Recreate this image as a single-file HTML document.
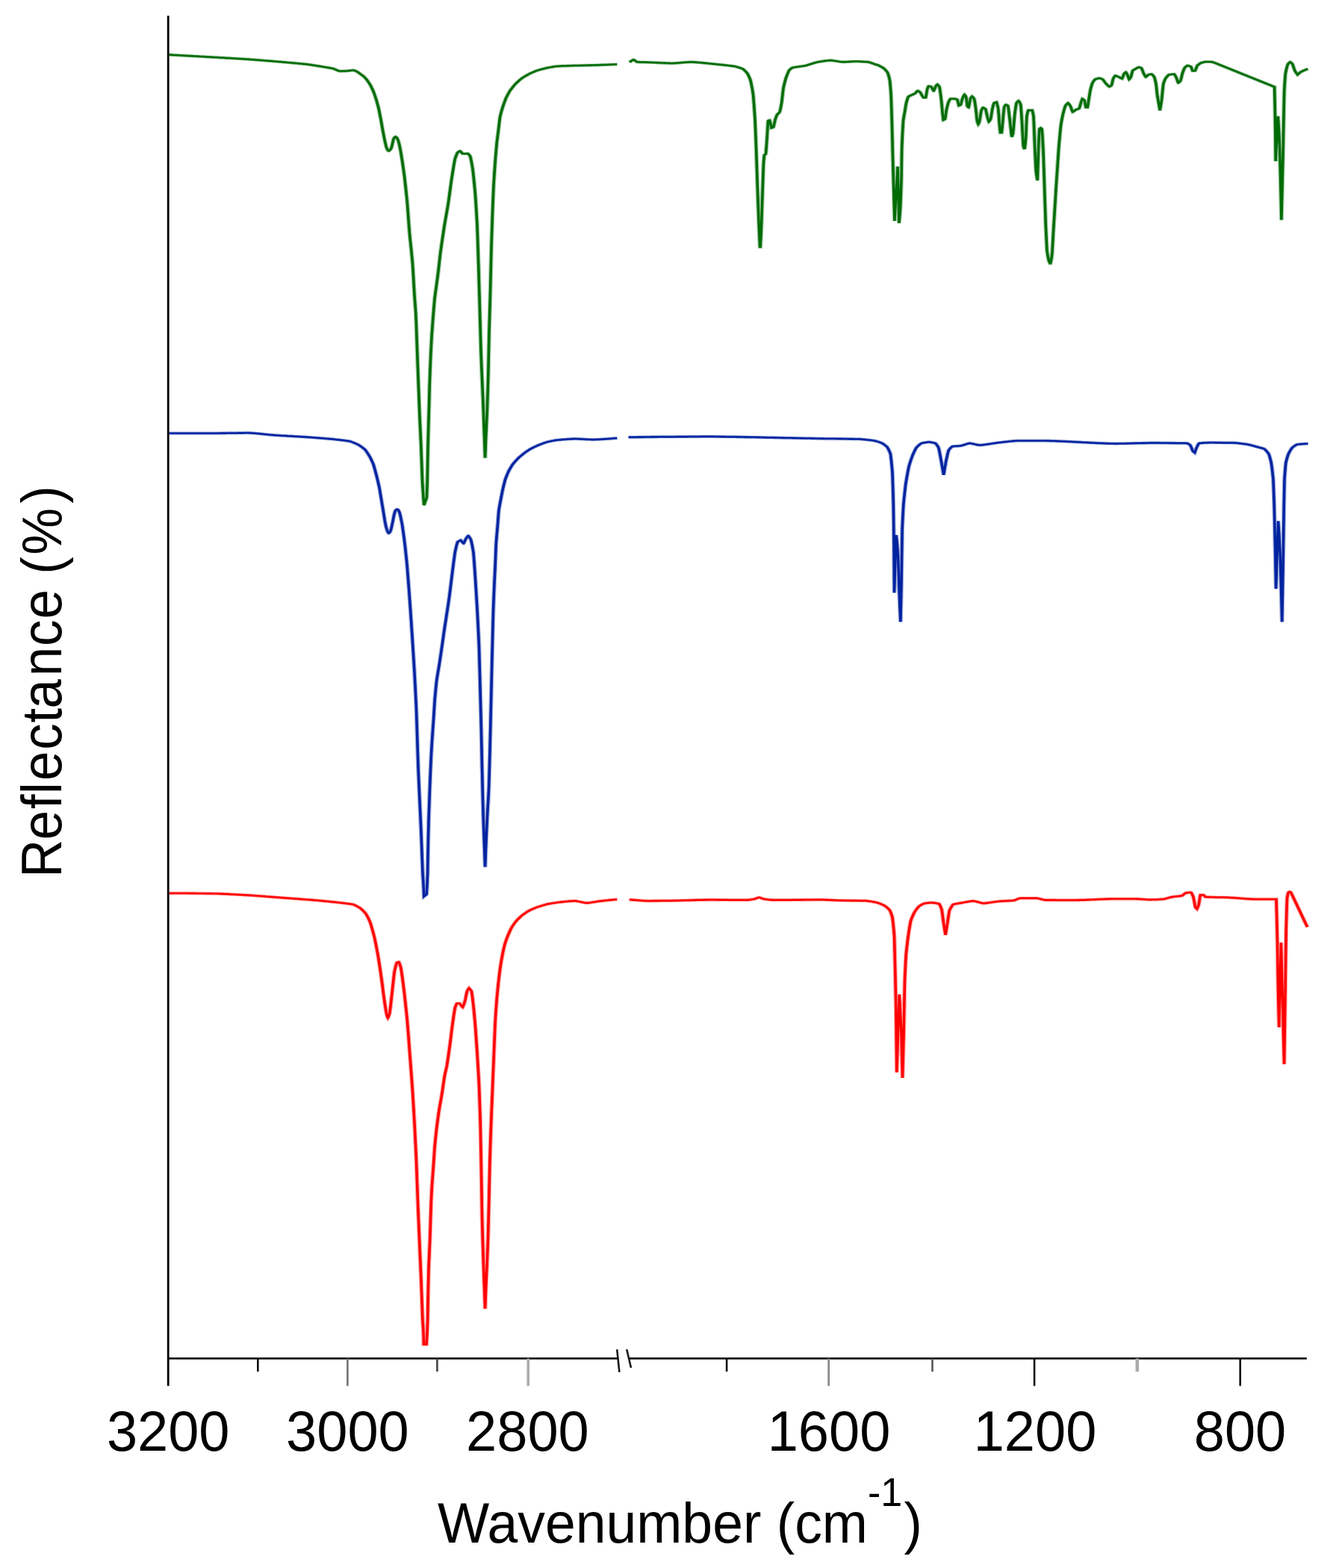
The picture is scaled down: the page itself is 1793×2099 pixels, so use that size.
<!DOCTYPE html>
<html lang="en">
<head>
<meta charset="utf-8">
<title>Reflectance spectra</title>
<style>
html,body{margin:0;padding:0;background:#fff;}
body{width:1793px;height:2099px;overflow:hidden;font-family:"Liberation Sans",Arial,Helvetica,sans-serif;}
svg{display:block}
#chart{width:1793px;height:2099px;}
</style>
</head>
<body>
<div id="chart">
<svg xmlns="http://www.w3.org/2000/svg" width="1793" height="2099" viewBox="0 0 1793 2099" style="display:block">
<rect width="1793" height="2099" fill="#fff"/>
<defs>
<path id="c1" d="M167.63 1195.7 168.22 1195.7 168.81 1195.7 169.40 1195.7 170.00 1195.7 170.59 1195.7 171.18 1195.7 171.77 1195.7 172.36 1195.7 172.96 1195.7 173.55 1195.7 174.14 1195.7 174.73 1195.7 175.32 1195.8 175.91 1195.8 176.51 1195.8 177.10 1195.8 177.69 1195.8 178.28 1195.8 178.87 1195.8 179.46 1195.8 180.06 1195.8 180.65 1195.8 181.24 1195.8 181.83 1195.8 182.42 1195.8 183.01 1195.8 183.61 1195.8 184.20 1195.8 184.79 1195.8 185.38 1195.8 185.97 1195.8 186.56 1195.9 187.16 1195.9 187.75 1195.9 188.34 1195.9 188.93 1195.9 189.52 1195.9 190.12 1195.9 190.71 1195.9 191.30 1195.9 191.89 1195.9 192.48 1195.9 193.07 1195.9 193.67 1195.9 194.26 1195.9 194.85 1195.9 195.44 1196.0 196.03 1196.0 196.62 1196.0 197.22 1196.0 197.81 1196.0 198.40 1196.0 198.99 1196.0 199.58 1196.0 200.17 1196.0 200.77 1196.0 201.36 1196.0 201.95 1196.0 202.54 1196.0 203.13 1196.1 203.72 1196.1 204.32 1196.1 204.91 1196.1 205.50 1196.1 206.09 1196.1 206.68 1196.1 207.28 1196.1 207.87 1196.1 208.46 1196.1 209.05 1196.1 209.64 1196.1 210.23 1196.2 210.83 1196.2 211.42 1196.2 212.01 1196.2 212.60 1196.2 213.19 1196.2 213.19 1196.2 213.78 1196.2 214.38 1196.3 214.97 1196.3 215.56 1196.3 216.15 1196.3 216.74 1196.4 217.33 1196.4 217.93 1196.4 218.52 1196.5 219.11 1196.5 219.70 1196.5 220.29 1196.6 220.88 1196.6 221.48 1196.6 222.07 1196.7 222.66 1196.7 223.25 1196.7 223.84 1196.8 224.44 1196.8 225.03 1196.8 225.62 1196.9 226.21 1196.9 226.80 1197.0 227.39 1197.0 227.99 1197.0 228.58 1197.1 229.17 1197.1 229.76 1197.2 230.35 1197.2 230.94 1197.2 231.54 1197.3 232.13 1197.3 232.72 1197.4 233.31 1197.4 233.90 1197.5 234.49 1197.5 235.09 1197.5 235.68 1197.6 236.27 1197.6 236.86 1197.7 237.45 1197.7 238.04 1197.8 238.64 1197.8 239.23 1197.8 239.82 1197.9 240.41 1197.9 241.00 1198.0 241.60 1198.0 242.19 1198.1 242.78 1198.1 243.37 1198.2 243.96 1198.2 244.55 1198.2 245.15 1198.3 245.74 1198.3 246.33 1198.4 246.67 1198.4 246.92 1198.4 247.51 1198.5 248.10 1198.5 248.70 1198.6 249.29 1198.6 249.88 1198.7 250.47 1198.8 251.06 1198.8 251.65 1198.9 252.25 1198.9 252.84 1199.0 253.43 1199.0 254.02 1199.1 254.61 1199.2 255.20 1199.2 255.80 1199.3 256.39 1199.3 256.98 1199.4 257.57 1199.5 258.16 1199.5 258.76 1199.6 259.35 1199.6 259.94 1199.7 260.53 1199.8 261.12 1199.8 261.71 1199.9 262.31 1199.9 262.90 1200.0 263.49 1200.1 264.08 1200.1 264.67 1200.2 265.26 1200.2 265.86 1200.3 266.45 1200.4 267.04 1200.4 267.63 1200.5 268.22 1200.6 268.81 1200.6 269.41 1200.7 270.00 1200.7 270.59 1200.8 271.18 1200.9 271.77 1200.9 272.36 1201.0 272.96 1201.1 273.55 1201.1 274.14 1201.2 274.73 1201.2 275.32 1201.3 275.92 1201.4 276.51 1201.4 277.10 1201.5 277.69 1201.5 278.28 1201.6 278.87 1201.7 279.47 1201.7 280.06 1201.8 280.15 1201.8 280.65 1201.9 281.24 1201.9 281.83 1202.0 282.42 1202.0 283.02 1202.1 283.61 1202.1 284.20 1202.2 284.79 1202.3 285.38 1202.3 285.97 1202.4 286.57 1202.4 287.16 1202.5 287.75 1202.6 288.34 1202.6 288.93 1202.7 289.53 1202.7 290.12 1202.8 290.71 1202.9 291.30 1202.9 291.89 1203.0 292.48 1203.0 293.08 1203.1 293.67 1203.1 294.26 1203.2 294.85 1203.3 295.44 1203.3 296.03 1203.4 296.63 1203.4 297.22 1203.5 297.81 1203.6 298.40 1203.6 298.99 1203.7 299.58 1203.7 300.18 1203.8 300.77 1203.9 301.36 1203.9 301.95 1204.0 302.54 1204.0 303.13 1204.1 303.73 1204.2 304.32 1204.2 304.91 1204.3 305.50 1204.3 306.09 1204.4 306.69 1204.5 307.28 1204.5 307.87 1204.6 308.46 1204.6 309.05 1204.7 309.64 1204.8 310.24 1204.8 310.83 1204.9 311.42 1205.0 312.01 1205.0 312.60 1205.1 313.19 1205.2 313.63 1205.2 313.79 1205.2 314.38 1205.3 314.97 1205.4 315.56 1205.4 316.15 1205.5 316.74 1205.6 317.34 1205.7 317.93 1205.7 318.52 1205.8 319.11 1205.9 319.70 1206.0 320.29 1206.1 320.89 1206.1 321.48 1206.2 322.07 1206.3 322.66 1206.4 323.25 1206.4 323.85 1206.5 324.44 1206.6 325.03 1206.7 325.62 1206.8 326.21 1206.8 326.80 1206.9 327.40 1207.0 327.99 1207.1 328.58 1207.2 329.17 1207.2 329.76 1207.3 330.35 1207.4 330.95 1207.5 331.54 1207.6 332.13 1207.6 332.72 1207.7 333.31 1207.8 333.90 1207.9 334.50 1208.0 335.09 1208.1 335.68 1208.2 336.27 1208.2 336.86 1208.3 337.45 1208.4 338.05 1208.5 338.64 1208.6 338.74 1208.6 339.23 1208.7 339.82 1208.8 340.41 1208.9 341.01 1209.0 341.60 1209.1 342.19 1209.2 342.78 1209.3 343.37 1209.4 343.96 1209.5 344.56 1209.6 345.15 1209.7 345.74 1209.8 346.33 1209.9 346.92 1210.0 347.51 1210.2 348.11 1210.3 348.70 1210.4 349.29 1210.5 349.88 1210.7 350.37 1210.8 350.47 1210.9 351.06 1211.2 351.66 1211.5 352.25 1211.9 352.84 1212.3 353.43 1212.7 354.02 1213.1 354.61 1213.5 355.21 1214.0 355.80 1214.4 356.39 1214.9 356.98 1215.4 357.04 1215.4 357.57 1216.0 358.17 1216.7 358.76 1217.4 359.35 1218.2 359.94 1218.9 360.53 1219.7 361.12 1220.6 361.72 1221.4 362.31 1222.3 362.90 1223.2 362.96 1223.3 363.49 1224.5 364.08 1226.0 364.67 1227.5 365.27 1229.0 365.86 1230.7 366.45 1232.4 367.04 1234.2 367.19 1234.6 367.63 1236.5 368.22 1239.1 368.82 1241.9 369.41 1244.7 370.00 1247.6 370.59 1250.7 371.18 1253.7 371.41 1254.9 371.77 1257.2 372.37 1261.0 372.96 1265.0 373.55 1269.1 374.14 1273.2 374.73 1277.4 374.74 1277.5 375.33 1282.4 375.92 1287.5 376.51 1292.7 377.10 1298.0 377.69 1303.4 378.07 1306.9 378.28 1309.0 378.88 1315.0 379.47 1321.1 380.06 1327.3 380.65 1333.3 381.24 1339.2 381.41 1340.8 381.83 1344.5 382.43 1349.7 383.02 1354.6 383.61 1358.8 383.63 1358.9 384.20 1361.1 384.74 1362.5 384.79 1362.4 385.38 1360.8 385.98 1358.6 386.44 1356.6 386.57 1355.5 387.16 1349.6 387.75 1342.7 388.34 1335.4 388.93 1328.2 389.04 1327.0 389.53 1321.1 390.12 1313.7 390.71 1306.5 391.30 1300.3 391.33 1300.0 391.89 1296.7 392.49 1293.5 393.08 1290.8 393.63 1288.8 393.67 1288.8 394.26 1288.3 394.85 1288.0 395.44 1287.7 395.56 1287.7 396.04 1288.9 396.63 1291.1 397.22 1293.7 397.63 1295.6 397.81 1297.0 398.40 1302.1 398.99 1307.7 399.59 1313.7 400.18 1319.9 400.67 1325.0 400.77 1326.2 401.36 1333.3 401.95 1340.5 402.54 1347.9 403.14 1355.5 403.73 1363.3 404.07 1368.0 404.32 1372.1 404.91 1382.3 405.50 1392.9 406.09 1403.7 406.67 1414.0 406.69 1414.4 407.28 1425.0 407.87 1435.6 408.46 1446.4 409.05 1457.5 409.19 1460.0 409.65 1470.0 410.24 1483.2 410.83 1496.8 411.11 1503.4 411.42 1511.5 412.01 1527.3 412.60 1543.9 412.81 1550.0 413.20 1563.4 413.79 1585.3 414.38 1607.3 414.59 1615.0 414.97 1627.3 415.56 1646.1 416.15 1664.6 416.75 1683.1 417.34 1701.8 417.85 1718.5 417.93 1721.2 418.52 1742.5 418.59 1745.1 419.11 1764.1 419.26 1768.9 419.70 1777.5 420.07 1785.5 420.30 1799.8 422.96 1799.8 423.55 1787.7 424.14 1769.2 424.15 1768.8 424.44 1745.1 424.73 1724.6 424.74 1723.5 425.26 1695.8 425.31 1693.9 425.90 1676.0 426.37 1661.7 426.49 1657.0 426.89 1640.0 427.07 1632.1 427.63 1609.0 427.66 1608.1 428.25 1592.9 428.59 1584.8 428.84 1580.2 429.42 1569.7 429.93 1560.7 430.01 1559.0 430.60 1546.7 431.11 1536.5 431.19 1535.4 431.77 1527.0 432.36 1519.2 432.89 1512.4 432.95 1511.8 433.54 1505.5 434.12 1499.4 434.71 1493.6 435.26 1488.3 435.30 1488.0 435.88 1483.2 436.47 1478.7 437.06 1474.3 437.65 1469.8 438.23 1465.2 438.37 1464.1 438.82 1460.1 439.41 1454.6 440.00 1449.1 440.58 1443.8 441.04 1440.0 441.17 1439.1 441.76 1435.5 442.35 1432.1 442.93 1428.6 443.19 1427.0 443.52 1424.2 444.11 1419.0 444.70 1413.6 445.28 1408.0 445.87 1402.4 446.30 1398.3 446.46 1396.6 447.04 1390.3 447.63 1383.9 448.22 1377.5 448.81 1371.3 448.81 1371.2 449.39 1365.8 449.98 1360.2 450.57 1355.0 451.16 1350.4 451.33 1349.2 451.74 1347.6 452.33 1345.5 452.92 1343.9 453.26 1343.2 453.51 1343.2 454.09 1343.2 454.68 1343.2 455.27 1343.2 455.78 1343.2 455.85 1343.3 456.44 1344.0 457.03 1345.1 457.62 1346.3 458.20 1347.4 458.79 1348.2 458.89 1348.3 459.38 1347.1 459.97 1345.1 460.55 1342.7 461.14 1340.1 461.41 1339.0 461.73 1337.0 462.32 1332.9 462.90 1329.0 463.26 1327.0 463.49 1326.4 464.08 1324.9 464.67 1323.7 465.19 1322.9 465.25 1323.0 465.84 1323.6 466.43 1324.5 467.01 1325.5 467.60 1326.8 467.70 1327.0 468.19 1330.9 468.78 1337.0 469.36 1343.6 469.56 1345.8 469.95 1351.2 470.54 1359.7 471.13 1368.5 471.41 1372.9 471.71 1378.5 472.30 1389.7 472.89 1401.3 473.33 1410.2 473.48 1413.3 474.06 1426.0 474.65 1439.2 475.19 1452.5 475.24 1454.3 475.82 1476.7 476.41 1501.9 476.44 1503.4 477.00 1539.1 477.26 1557.0 477.59 1583.3 478.15 1627.8 478.17 1629.2 478.76 1658.1 479.33 1683.8 479.35 1684.4 479.94 1706.6 480.44 1725.4 480.52 1728.4 481.11 1750.4 481.26 1750.4 481.85 1728.1 481.93 1725.4 482.44 1709.9 483.04 1692.8 483.33 1683.8 483.63 1673.7 484.00 1660.0 484.22 1649.4 484.59 1630.0 484.81 1617.9 485.04 1605.0 485.40 1582.5 485.78 1560.0 485.99 1549.7 486.59 1523.4 486.67 1520.0 487.18 1501.8 487.77 1481.9 488.36 1462.4 488.95 1442.8 489.04 1440.0 489.55 1422.8 490.14 1402.8 490.52 1390.0 490.73 1382.7 491.11 1370.0 491.32 1365.3 491.91 1353.1 492.51 1342.0 492.74 1337.7 493.10 1332.5 493.69 1324.3 494.28 1316.5 494.67 1311.6 494.87 1309.3 495.47 1302.8 496.06 1296.7 496.30 1294.3 496.65 1291.4 497.24 1286.6 497.83 1282.0 498.43 1277.6 498.52 1276.9 499.02 1273.8 499.61 1270.2 500.20 1266.8 500.74 1263.9 500.79 1263.7 501.38 1261.3 501.98 1258.9 502.57 1256.7 503.16 1254.6 503.70 1252.6 503.75 1252.4 504.34 1250.6 504.94 1248.8 505.53 1247.0 506.12 1245.3 506.71 1243.6 507.26 1242.1 507.30 1242.0 507.90 1240.7 508.49 1239.5 509.08 1238.3 509.67 1237.2 510.26 1236.0 510.86 1234.9 511.45 1233.9 511.70 1233.4 512.04 1232.9 512.63 1232.1 513.22 1231.2 513.81 1230.4 514.41 1229.6 515.00 1228.8 515.59 1228.1 516.18 1227.3 516.77 1226.6 517.37 1225.8 517.56 1225.6 517.96 1225.2 518.55 1224.6 519.14 1224.1 519.73 1223.5 520.33 1222.9 520.92 1222.4 521.51 1221.9 522.10 1221.3 522.69 1220.8 523.29 1220.3 523.88 1219.8 524.47 1219.3 525.06 1218.9 525.26 1218.7 525.65 1218.5 526.25 1218.1 526.84 1217.7 527.43 1217.4 528.02 1217.0 528.61 1216.7 529.20 1216.3 529.80 1216.0 530.39 1215.7 530.98 1215.4 531.57 1215.0 532.16 1214.7 532.76 1214.4 532.96 1214.3 533.35 1214.1 533.94 1213.9 534.53 1213.6 535.12 1213.4 535.72 1213.1 536.31 1212.9 536.90 1212.6 537.49 1212.4 538.08 1212.1 538.68 1211.9 539.27 1211.6 539.86 1211.4 540.45 1211.2 541.04 1211.0 541.64 1210.7 542.23 1210.5 542.59 1210.4 542.82 1210.3 543.41 1210.2 544.00 1210.0 544.59 1209.9 545.19 1209.8 545.78 1209.6 546.37 1209.5 546.96 1209.3 547.55 1209.2 548.15 1209.1 548.74 1208.9 549.33 1208.8 549.92 1208.7 550.51 1208.6 551.11 1208.4 551.70 1208.3 552.29 1208.2 552.30 1208.2 552.88 1208.1 553.47 1208.0 554.07 1207.9 554.66 1207.8 555.25 1207.7 555.84 1207.6 556.43 1207.5 557.03 1207.4 557.62 1207.4 558.21 1207.3 558.80 1207.2 559.39 1207.1 559.98 1207.0 560.58 1206.9 561.17 1206.8 561.76 1206.8 562.35 1206.7 562.94 1206.6 562.96 1206.6 563.54 1206.5 564.13 1206.5 564.72 1206.4 565.31 1206.4 565.90 1206.3 566.50 1206.3 567.09 1206.2 567.68 1206.2 568.27 1206.1 568.86 1206.1 569.46 1206.0 570.05 1206.0 570.37 1206.0 570.64 1206.0 571.23 1206.1 571.82 1206.2 572.42 1206.4 573.01 1206.5 573.60 1206.7 574.19 1206.8 574.78 1207.0 575.37 1207.2 575.97 1207.3 576.56 1207.5 577.15 1207.7 577.74 1207.9 578.33 1208.0 578.93 1208.2 579.52 1208.4 580.11 1208.5 580.70 1208.6 581.29 1208.7 581.89 1208.8 581.93 1208.8 582.48 1208.7 583.07 1208.7 583.66 1208.6 584.25 1208.5 584.85 1208.4 585.44 1208.3 586.03 1208.2 586.62 1208.1 587.21 1207.9 587.81 1207.8 588.40 1207.7 588.99 1207.6 589.58 1207.4 590.17 1207.3 590.76 1207.2 591.36 1207.0 591.95 1206.9 592.54 1206.8 593.13 1206.6 593.72 1206.5 594.32 1206.4 594.44 1206.4 594.91 1206.3 595.50 1206.2 596.09 1206.1 596.68 1206.1 597.28 1206.0 597.87 1205.9 598.46 1205.8 599.05 1205.7 599.64 1205.6 600.24 1205.5 600.83 1205.4 601.42 1205.4 602.01 1205.3 602.60 1205.2 603.20 1205.1 603.79 1205.0 604.38 1204.9 604.97 1204.9 605.56 1204.8 606.15 1204.7 606.75 1204.6 607.34 1204.5 607.93 1204.4 608.52 1204.4 609.11 1204.3 609.71 1204.2 610.30 1204.1 610.89 1204.1 611.48 1204.0 612.07 1203.9"/>
<path id="c2" d="M624.22 1204.2 624.81 1204.3 625.41 1204.3 626.00 1204.4 626.59 1204.5 627.18 1204.6 627.77 1204.6 628.37 1204.7 628.96 1204.8 629.55 1204.8 630.14 1204.9 630.74 1205.0 631.33 1205.1 631.92 1205.1 632.51 1205.2 633.10 1205.3 633.70 1205.3 634.29 1205.4 634.88 1205.4 635.47 1205.5 636.06 1205.5 636.66 1205.6 637.25 1205.7 637.84 1205.7 638.43 1205.8 639.02 1205.8 639.62 1205.8 640.21 1205.9 640.80 1205.9 641.39 1206.0 641.99 1206.0 642.22 1206.0 642.58 1206.0 643.17 1206.0 643.76 1206.0 644.35 1206.0 644.95 1206.0 645.54 1206.0 646.13 1206.0 646.72 1206.0 647.31 1206.0 647.91 1205.9 648.50 1205.9 649.09 1205.9 649.68 1205.9 650.27 1205.9 650.87 1205.9 651.46 1205.9 652.05 1205.9 652.64 1205.9 653.23 1205.9 653.83 1205.9 654.42 1205.9 655.01 1205.8 655.60 1205.8 656.20 1205.8 656.79 1205.8 657.38 1205.8 657.97 1205.8 658.56 1205.8 659.16 1205.8 659.75 1205.8 660.34 1205.8 660.93 1205.8 661.52 1205.7 662.12 1205.7 662.71 1205.7 663.30 1205.7 663.89 1205.7 664.48 1205.7 665.08 1205.7 665.67 1205.7 666.26 1205.7 666.85 1205.6 667.45 1205.6 668.04 1205.6 668.63 1205.6 669.22 1205.6 669.63 1205.6 669.81 1205.6 670.41 1205.6 671.00 1205.6 671.59 1205.5 672.18 1205.5 672.77 1205.5 673.37 1205.5 673.96 1205.5 674.55 1205.5 675.14 1205.4 675.73 1205.4 676.33 1205.4 676.92 1205.4 677.51 1205.4 678.10 1205.3 678.70 1205.3 679.29 1205.3 679.88 1205.3 680.47 1205.2 681.06 1205.2 681.66 1205.2 682.25 1205.2 682.84 1205.2 683.43 1205.1 684.02 1205.1 684.62 1205.1 685.21 1205.1 685.80 1205.0 686.39 1205.0 686.98 1205.0 687.58 1205.0 688.17 1205.0 688.76 1204.9 689.35 1204.9 689.94 1204.9 690.54 1204.9 691.13 1204.8 691.72 1204.8 692.31 1204.8 692.91 1204.8 693.50 1204.8 694.09 1204.7 694.68 1204.7 695.27 1204.7 695.87 1204.7 696.46 1204.7 697.05 1204.7 697.64 1204.6 698.23 1204.6 698.83 1204.6 699.42 1204.6 700.01 1204.6 700.60 1204.6 701.19 1204.5 701.79 1204.5 702.38 1204.5 702.97 1204.5 703.56 1204.5 703.70 1204.5 704.16 1204.5 704.75 1204.5 705.34 1204.5 705.93 1204.5 706.52 1204.5 707.12 1204.5 707.71 1204.5 708.30 1204.5 708.89 1204.5 709.48 1204.5 710.08 1204.5 710.67 1204.5 711.26 1204.5 711.85 1204.6 712.44 1204.6 713.04 1204.6 713.63 1204.6 714.22 1204.6 714.81 1204.6 715.41 1204.6 716.00 1204.6 716.59 1204.6 717.18 1204.6 717.77 1204.6 718.37 1204.6 718.96 1204.6 719.55 1204.6 720.14 1204.6 720.73 1204.6 721.33 1204.6 721.92 1204.6 722.51 1204.7 723.10 1204.7 723.69 1204.7 724.29 1204.7 724.88 1204.7 725.47 1204.7 726.06 1204.7 726.65 1204.7 727.25 1204.7 727.84 1204.7 728.43 1204.7 729.02 1204.7 729.62 1204.7 730.21 1204.7 730.80 1204.7 731.39 1204.7 731.98 1204.7 732.58 1204.7 733.17 1204.8 733.76 1204.8 734.35 1204.8 734.94 1204.8 735.54 1204.8 736.13 1204.8 736.72 1204.8 737.31 1204.8 737.90 1204.8 738.50 1204.8 739.09 1204.8 739.68 1204.8 740.27 1204.8 740.74 1204.8 740.87 1204.8 741.46 1204.7 742.05 1204.7 742.64 1204.6 743.23 1204.5 743.83 1204.4 744.42 1204.3 745.01 1204.2 745.60 1204.0 746.19 1203.9 746.79 1203.8 747.38 1203.7 747.97 1203.5 748.15 1203.5 748.56 1203.3 749.15 1203.1 749.75 1202.8 750.34 1202.5 750.93 1202.2 751.52 1201.9 752.12 1201.6 752.71 1201.4 752.89 1201.4 753.30 1201.5 753.89 1201.7 754.48 1202.0 755.08 1202.2 755.67 1202.6 756.26 1202.9 756.85 1203.1 757.44 1203.4 757.78 1203.5 758.04 1203.5 758.63 1203.7 759.22 1203.8 759.81 1203.9 760.40 1204.0 761.00 1204.1 761.59 1204.2 762.18 1204.3 762.77 1204.4 763.36 1204.4 763.96 1204.5 764.55 1204.6 765.14 1204.7 765.73 1204.7 766.33 1204.8 766.67 1204.8 766.92 1204.8 767.51 1204.8 768.10 1204.8 768.69 1204.8 769.29 1204.8 769.88 1204.8 770.47 1204.8 771.06 1204.8 771.65 1204.8 772.25 1204.8 772.84 1204.8 773.43 1204.8 774.02 1204.8 774.61 1204.8 775.21 1204.7 775.80 1204.7 776.39 1204.7 776.98 1204.7 777.58 1204.7 778.17 1204.7 778.76 1204.7 779.35 1204.7 779.94 1204.7 780.54 1204.7 781.13 1204.7 781.72 1204.7 782.31 1204.7 782.90 1204.7 783.50 1204.7 784.09 1204.7 784.68 1204.7 785.27 1204.7 785.86 1204.7 786.46 1204.6 787.05 1204.6 787.64 1204.6 788.23 1204.6 788.83 1204.6 789.42 1204.6 790.01 1204.6 790.60 1204.6 791.19 1204.6 791.79 1204.6 792.38 1204.6 792.97 1204.6 793.56 1204.6 794.15 1204.6 794.75 1204.6 795.34 1204.6 795.93 1204.5 796.52 1204.5 797.11 1204.5 797.71 1204.5 798.30 1204.5 798.89 1204.5 799.48 1204.5 800.07 1204.5 800.67 1204.5 801.26 1204.5 801.85 1204.5 802.44 1204.5 803.04 1204.5 803.63 1204.5 804.22 1204.5 804.81 1204.5 805.40 1204.5 806.00 1204.5 806.59 1204.4 807.18 1204.4 807.77 1204.4 808.36 1204.4 808.96 1204.4 809.55 1204.4 810.14 1204.4 810.73 1204.4 811.32 1204.4 811.92 1204.4 812.51 1204.4 813.10 1204.4 813.69 1204.4 814.29 1204.4 814.81 1204.4 814.88 1204.4 815.47 1204.4 816.06 1204.4 816.65 1204.5 817.25 1204.5 817.84 1204.5 818.43 1204.5 819.02 1204.6 819.61 1204.6 820.21 1204.6 820.80 1204.7 821.39 1204.7 821.98 1204.7 822.57 1204.8 823.17 1204.8 823.76 1204.8 824.35 1204.9 824.94 1204.9 825.54 1205.0 826.13 1205.0 826.72 1205.0 827.31 1205.1 827.90 1205.1 828.50 1205.1 829.09 1205.2 829.68 1205.2 830.27 1205.2 830.86 1205.3 831.46 1205.3 832.05 1205.3 832.64 1205.4 833.23 1205.4 833.63 1205.4 833.82 1205.4 834.42 1205.4 835.01 1205.4 835.60 1205.4 836.19 1205.4 836.78 1205.5 837.38 1205.5 837.97 1205.5 838.56 1205.5 839.15 1205.5 839.75 1205.5 840.34 1205.5 840.93 1205.5 841.52 1205.5 842.11 1205.5 842.71 1205.5 843.30 1205.6 843.89 1205.6 844.48 1205.6 845.07 1205.6 845.67 1205.6 846.26 1205.6 846.85 1205.6 847.44 1205.6 848.03 1205.6 848.63 1205.6 849.22 1205.6 849.81 1205.6 850.40 1205.6 851.00 1205.7 851.59 1205.7 852.18 1205.7 852.77 1205.7 853.36 1205.7 853.96 1205.7 854.55 1205.7 855.14 1205.7 855.73 1205.7 856.32 1205.7 856.92 1205.8 857.51 1205.8 858.10 1205.8 858.69 1205.8 858.74 1205.8 859.28 1205.9 859.88 1206.0 860.47 1206.1 861.06 1206.2 861.65 1206.3 862.25 1206.4 862.84 1206.5 863.43 1206.6 864.02 1206.8 864.61 1206.9 865.21 1207.0 865.80 1207.2 866.39 1207.3 866.98 1207.5 867.57 1207.6 868.17 1207.8 868.76 1207.9 869.35 1208.1 869.94 1208.3 870.07 1208.3 870.53 1208.5 871.13 1208.8 871.72 1209.1 872.31 1209.4 872.90 1209.7 873.49 1210.0 874.09 1210.3 874.68 1210.7 875.27 1211.0 875.86 1211.4 876.46 1211.8 877.05 1212.2 877.56 1212.5 877.64 1212.6 878.23 1213.2 878.82 1213.8 879.42 1214.4 880.01 1215.1 880.60 1215.8 881.19 1216.5 881.78 1217.3 882.38 1218.2 882.59 1218.5 882.97 1219.6 883.56 1221.5 884.15 1223.7 884.74 1226.1 885.11 1227.8 885.34 1230.0 885.93 1236.6 886.52 1244.7 887.04 1253.2 887.11 1256.2 887.71 1287.4 887.85 1295.6 888.30 1322.2 888.67 1346.4 888.89 1368.5 889.48 1435.4 892.00 1331.2 892.53 1342.2 893.06 1355.5 893.59 1370.4 893.93 1380.3 894.12 1388.9 894.65 1414.7 895.19 1443.0 895.78 1415.1 896.37 1384.3 896.44 1380.3 896.96 1342.5 897.41 1312.5 897.56 1307.7 898.15 1290.9 898.67 1278.6 898.74 1277.5 899.33 1269.7 899.93 1262.8 900.52 1256.4 900.81 1253.2 901.11 1250.6 901.70 1245.4 902.30 1240.5 902.89 1235.9 903.33 1232.9 903.48 1232.3 904.07 1230.2 904.67 1228.1 905.26 1226.3 905.85 1224.5 906.44 1222.8 907.04 1221.2 907.11 1221.0 907.63 1220.0 908.22 1218.8 908.81 1217.7 909.41 1216.7 910.00 1215.7 910.59 1214.7 911.19 1213.8 911.48 1213.4 911.78 1213.1 912.37 1212.6 912.96 1212.1 913.56 1211.6 914.15 1211.1 914.74 1210.6 915.33 1210.2 915.93 1209.8 916.52 1209.5 917.11 1209.4 917.70 1209.3 918.30 1209.1 918.89 1209.0 919.48 1208.9 920.07 1208.8 920.67 1208.7 921.26 1208.6 921.85 1208.5 922.44 1208.5 923.04 1208.4 923.63 1208.3 924.07 1208.3 924.22 1208.3 924.81 1208.4 925.41 1208.5 926.00 1208.6 926.59 1208.7 927.19 1208.8 927.78 1208.9 928.37 1209.0 928.96 1209.2 929.56 1209.4 930.15 1209.5 930.74 1209.7 931.33 1209.9 931.56 1210.0 931.93 1210.7 932.52 1212.2 933.11 1214.1 933.70 1216.2 934.07 1217.6 934.30 1219.3 934.89 1224.9 935.48 1231.1 936.00 1236.3 936.07 1236.9 936.67 1241.9 937.26 1246.8 937.85 1251.5 938.44 1246.7 939.04 1241.8 939.63 1236.9 939.70 1236.3 940.22 1231.5 940.81 1225.9 941.41 1220.8 941.63 1219.3 942.00 1218.2 942.59 1216.6 943.18 1215.1 943.78 1213.7 944.37 1212.5 944.96 1211.5 945.41 1210.8 945.55 1210.7 946.15 1210.5 946.74 1210.3 947.33 1210.1 947.92 1210.0 948.52 1209.8 949.11 1209.7 949.70 1209.5 950.29 1209.4 950.89 1209.3 951.48 1209.1 952.07 1209.0 952.66 1208.9 952.89 1208.8 953.25 1208.7 953.85 1208.6 954.44 1208.4 955.03 1208.3 955.62 1208.1 956.22 1208.0 956.81 1207.8 957.40 1207.7 957.99 1207.6 958.59 1207.4 959.18 1207.3 959.77 1207.1 960.36 1207.0 960.96 1206.9 961.55 1206.7 962.14 1206.6 962.73 1206.5 963.33 1206.4 963.92 1206.3 964.51 1206.2 965.10 1206.1 965.48 1206.1 965.70 1206.1 966.29 1206.3 966.88 1206.4 967.47 1206.6 968.07 1206.8 968.66 1207.0 969.25 1207.2 969.84 1207.4 970.43 1207.6 971.03 1207.8 971.62 1208.1 972.21 1208.3 972.80 1208.5 973.40 1208.7 973.99 1208.9 974.58 1209.0 975.17 1209.1 975.56 1209.2 975.77 1209.2 976.36 1209.1 976.95 1209.1 977.54 1209.0 978.14 1208.9 978.73 1208.8 979.32 1208.7 979.91 1208.6 980.51 1208.5 981.10 1208.4 981.69 1208.3 982.28 1208.2 982.88 1208.0 983.47 1207.9 984.06 1207.8 984.65 1207.7 985.25 1207.6 985.84 1207.4 986.43 1207.3 987.02 1207.2 987.61 1207.1 988.21 1207.0 988.80 1206.9 989.39 1206.8 989.98 1206.7 990.58 1206.6 990.59 1206.6 991.17 1206.5 991.76 1206.5 992.35 1206.4 992.95 1206.4 993.54 1206.4 994.13 1206.3 994.72 1206.3 995.32 1206.2 995.91 1206.2 996.50 1206.1 997.09 1206.1 997.69 1206.1 998.28 1206.0 998.87 1206.0 999.46 1205.9 1000.06 1205.9 1000.65 1205.9 1001.24 1205.8 1001.83 1205.8 1002.43 1205.7 1003.02 1205.7 1003.61 1205.6 1004.20 1205.6 1004.79 1205.5 1005.39 1205.4 1005.63 1205.4 1005.98 1205.3 1006.57 1205.0 1007.16 1204.7 1007.76 1204.4 1008.35 1204.1 1008.94 1203.7 1009.53 1203.4 1010.13 1203.1 1010.72 1202.8 1011.31 1202.6 1011.90 1202.4 1011.93 1202.4 1012.50 1202.4 1013.09 1202.4 1013.68 1202.4 1014.27 1202.4 1014.87 1202.4 1015.46 1202.4 1016.05 1202.4 1016.64 1202.4 1017.24 1202.4 1017.83 1202.4 1018.42 1202.4 1019.01 1202.4 1019.61 1202.4 1020.20 1202.4 1020.79 1202.4 1021.38 1202.4 1021.98 1202.4 1022.57 1202.4 1023.16 1202.4 1023.75 1202.4 1024.34 1202.4 1024.94 1202.4 1025.53 1202.4 1026.12 1202.4 1026.71 1202.4 1027.31 1202.4 1027.90 1202.4 1028.22 1202.4 1028.49 1202.4 1029.08 1202.6 1029.68 1202.7 1030.27 1202.9 1030.86 1203.0 1031.45 1203.2 1032.05 1203.4 1032.64 1203.6 1033.23 1203.9 1033.82 1204.1 1034.42 1204.3 1035.01 1204.4 1035.60 1204.6 1036.19 1204.7 1036.79 1204.9 1037.04 1204.9 1037.38 1204.9 1037.97 1204.9 1038.56 1204.9 1039.16 1204.9 1039.75 1204.9 1040.34 1204.9 1040.93 1204.9 1041.52 1204.9 1042.12 1204.9 1042.71 1204.9 1043.30 1204.9 1043.89 1204.9 1044.49 1204.9 1045.08 1204.9 1045.67 1204.9 1046.26 1204.9 1046.86 1204.9 1047.45 1204.9 1048.04 1205.0 1048.63 1205.0 1049.23 1205.0 1049.82 1205.0 1050.41 1205.0 1051.00 1205.0 1051.60 1205.0 1052.19 1205.0 1052.78 1205.0 1053.37 1205.0 1053.97 1205.0 1054.56 1205.0 1055.15 1205.0 1055.74 1205.0 1056.34 1205.0 1056.93 1205.0 1057.52 1205.0 1058.11 1205.0 1058.70 1205.0 1059.30 1205.0 1059.89 1205.0 1060.48 1205.0 1061.07 1205.0 1061.67 1205.0 1062.26 1205.0 1062.85 1205.0 1063.44 1205.0 1064.04 1205.0 1064.63 1205.0 1065.22 1205.0 1065.81 1205.0 1066.41 1205.0 1066.67 1205.0 1067.00 1205.0 1067.59 1205.0 1068.18 1205.0 1068.78 1204.9 1069.37 1204.9 1069.96 1204.9 1070.55 1204.9 1071.15 1204.9 1071.74 1204.8 1072.33 1204.8 1072.92 1204.8 1073.52 1204.8 1074.11 1204.7 1074.70 1204.7 1075.29 1204.7 1075.88 1204.7 1076.48 1204.6 1077.07 1204.6 1077.66 1204.6 1078.25 1204.5 1078.85 1204.5 1079.44 1204.5 1080.03 1204.5 1080.62 1204.4 1081.22 1204.4 1081.81 1204.4 1082.40 1204.3 1082.99 1204.3 1083.59 1204.3 1084.18 1204.2 1084.77 1204.2 1085.36 1204.2 1085.96 1204.1 1086.55 1204.1 1087.14 1204.1 1087.73 1204.0 1088.33 1204.0 1088.92 1204.0 1089.51 1203.9 1090.10 1203.9 1090.70 1203.9 1091.29 1203.8 1091.88 1203.8 1092.47 1203.8 1093.07 1203.7 1093.66 1203.7 1094.25 1203.7 1094.84 1203.6 1095.43 1203.6 1096.03 1203.6 1096.62 1203.5 1097.21 1203.5 1097.80 1203.5 1098.40 1203.5 1098.99 1203.4 1099.58 1203.4 1100.17 1203.4 1100.77 1203.4 1101.36 1203.3 1101.95 1203.3 1102.54 1203.3 1103.14 1203.3 1103.73 1203.3 1104.32 1203.2 1104.91 1203.2 1105.51 1203.2 1105.93 1203.2 1106.10 1203.2 1106.69 1203.2 1107.28 1203.2 1107.88 1203.2 1108.47 1203.2 1109.06 1203.2 1109.65 1203.2 1110.25 1203.2 1110.84 1203.2 1111.43 1203.2 1112.02 1203.2 1112.61 1203.2 1113.21 1203.2 1113.80 1203.2 1114.39 1203.2 1114.98 1203.2 1115.58 1203.2 1116.17 1203.2 1116.76 1203.2 1117.35 1203.2 1117.95 1203.2 1118.54 1203.2 1119.13 1203.2 1119.72 1203.2 1120.32 1203.2 1120.91 1203.2 1121.50 1203.2 1122.09 1203.2 1122.69 1203.2 1123.28 1203.2 1123.87 1203.2 1124.46 1203.2 1124.74 1203.2 1125.06 1203.2 1125.65 1203.2 1126.24 1203.3 1126.83 1203.3 1127.43 1203.3 1128.02 1203.4 1128.61 1203.4 1129.20 1203.5 1129.79 1203.5 1130.39 1203.6 1130.98 1203.6 1131.57 1203.7 1132.16 1203.7 1132.76 1203.8 1133.35 1203.8 1133.94 1203.9 1134.53 1203.9 1135.13 1204.0 1135.72 1204.0 1136.31 1204.1 1136.90 1204.1 1137.50 1204.2 1138.09 1204.2 1138.68 1204.3 1139.27 1204.3 1139.87 1204.3 1140.46 1204.4 1141.05 1204.4 1141.11 1204.4 1141.64 1204.4 1142.24 1204.4 1142.83 1204.3 1143.42 1204.3 1144.01 1204.3 1144.61 1204.3 1145.20 1204.2 1145.79 1204.2 1146.38 1204.2 1146.97 1204.2 1147.57 1204.1 1148.16 1204.1 1148.75 1204.0 1149.34 1204.0 1149.94 1204.0 1150.53 1203.9 1151.12 1203.9 1151.71 1203.8 1152.31 1203.8 1152.90 1203.8 1153.49 1203.7 1153.63 1203.7 1154.08 1203.6 1154.68 1203.4 1155.27 1203.3 1155.86 1203.1 1156.45 1202.9 1157.05 1202.6 1157.64 1202.4 1158.23 1202.2 1158.82 1202.0 1159.42 1201.7 1160.01 1201.5 1160.60 1201.3 1161.19 1201.1 1161.79 1200.9 1162.38 1200.7 1162.44 1200.7 1162.97 1200.6 1163.56 1200.5 1164.16 1200.4 1164.75 1200.3 1165.34 1200.2 1165.93 1200.1 1166.52 1200.0 1167.12 1200.0 1167.71 1199.9 1168.30 1199.8 1168.89 1199.7 1169.49 1199.6 1170.08 1199.5 1170.67 1199.4 1171.26 1199.3 1171.86 1199.1 1172.44 1199.0 1172.45 1199.0 1173.04 1198.5 1173.63 1197.9 1174.23 1197.2 1174.82 1196.6 1175.41 1195.9 1176.00 1195.4 1176.22 1195.3 1176.60 1195.2 1177.19 1195.1 1177.78 1195.1 1178.37 1195.0 1178.97 1194.9 1179.56 1194.8 1180.15 1194.8 1180.74 1194.7 1181.26 1194.7 1181.34 1194.8 1181.93 1195.8 1182.52 1197.2 1183.11 1198.9 1183.70 1200.7 1183.70 1200.7 1184.30 1204.7 1184.89 1209.3 1185.48 1213.4 1185.63 1214.2 1186.07 1215.1 1186.67 1216.1 1187.26 1216.8 1187.85 1215.2 1188.44 1213.1 1189.03 1210.8 1189.04 1210.8 1189.63 1206.1 1190.22 1200.8 1190.67 1198.1 1190.81 1198.1 1191.40 1198.1 1191.99 1198.1 1192.58 1198.1 1193.17 1198.1 1193.77 1198.1 1193.78 1198.1 1194.36 1198.8 1194.95 1199.7 1195.54 1200.6 1195.70 1200.7 1196.13 1200.7 1196.72 1200.8 1197.31 1200.8 1197.91 1200.8 1198.50 1200.9 1199.09 1200.9 1199.68 1200.9 1200.27 1200.9 1200.86 1201.0 1201.45 1201.0 1202.05 1201.0 1202.64 1201.0 1203.23 1201.0 1203.82 1201.1 1204.41 1201.1 1205.00 1201.1 1205.60 1201.1 1206.19 1201.1 1206.78 1201.1 1207.37 1201.2 1207.96 1201.2 1208.55 1201.2 1209.14 1201.2 1209.74 1201.2 1210.33 1201.2 1210.92 1201.3 1211.51 1201.3 1212.10 1201.3 1212.69 1201.3 1213.28 1201.3 1213.88 1201.3 1214.47 1201.3 1215.06 1201.4 1215.65 1201.4 1216.24 1201.4 1216.83 1201.4 1217.42 1201.4 1218.02 1201.5 1218.61 1201.5 1218.89 1201.5 1219.20 1201.5 1219.79 1201.6 1220.38 1201.6 1220.97 1201.7 1221.57 1201.7 1222.16 1201.8 1222.75 1201.8 1223.34 1201.9 1223.93 1201.9 1224.52 1202.0 1225.11 1202.0 1225.71 1202.1 1226.30 1202.1 1226.89 1202.2 1227.48 1202.3 1228.07 1202.3 1228.66 1202.4 1229.25 1202.4 1229.85 1202.5 1230.44 1202.6 1231.03 1202.6 1231.62 1202.7 1232.21 1202.8 1232.80 1202.8 1233.39 1202.9 1233.99 1202.9 1234.58 1203.0 1235.17 1203.1 1235.76 1203.1 1236.35 1203.2 1236.94 1203.2 1237.53 1203.3 1238.13 1203.3 1238.72 1203.4 1239.31 1203.4 1239.90 1203.5 1240.49 1203.5 1241.08 1203.5 1241.68 1203.6 1242.27 1203.6 1242.86 1203.6 1243.45 1203.7 1244.00 1203.7 1244.04 1203.7 1244.63 1203.7 1245.22 1203.7 1245.82 1203.7 1246.41 1203.7 1247.00 1203.7 1247.59 1203.7 1248.18 1203.7 1248.77 1203.7 1249.36 1203.7 1249.96 1203.7 1250.55 1203.7 1251.14 1203.7 1251.73 1203.7 1252.32 1203.7 1252.91 1203.7 1253.50 1203.7 1254.10 1203.7 1254.69 1203.7 1255.28 1203.7 1255.87 1203.7 1256.46 1203.7 1257.05 1203.7 1257.65 1203.7 1258.24 1203.7 1258.83 1203.7 1259.42 1203.7 1260.01 1203.7 1260.60 1203.7 1261.19 1203.7 1261.79 1203.7 1262.38 1203.7 1262.97 1203.7 1263.56 1203.7 1264.15 1203.7 1264.74 1203.7 1265.33 1203.7 1265.93 1203.7 1266.47 1230.2 1267.02 1260.8 1267.04 1261.7 1267.57 1306.5 1267.85 1329.5 1268.12 1345.5 1268.67 1375.3 1270.67 1261.7 1271.19 1288.6 1271.70 1315.5 1272.22 1342.5 1272.30 1346.4 1272.74 1369.7 1273.26 1397.0 1273.78 1424.4 1274.30 1377.2 1274.81 1329.5 1275.33 1277.9 1275.70 1244.7 1275.85 1237.0 1276.37 1212.6 1276.67 1202.4 1276.89 1200.6 1277.41 1197.0 1277.93 1194.7 1278.46 1194.2 1278.99 1193.9 1279.26 1193.8 1279.53 1193.9 1280.06 1194.4 1280.59 1195.0 1296.74 1241.0"/>
</defs>
<g transform="scale(1.35,1)" fill="none" stroke="#ff0000" stroke-linejoin="miter" stroke-miterlimit="3" stroke-linecap="butt">
<use href="#c1" stroke-width="4.4" stroke-opacity="0.35"/>
<use href="#c2" stroke-width="4.4" stroke-opacity="0.35"/>
<use href="#c1" stroke-width="2.6"/>
<use href="#c2" stroke-width="2.6"/>
</g>
<defs>
<path id="c3" d="M167.63 580.0 168.22 580.0 168.81 580.0 169.41 580.0 170.00 580.0 170.59 580.0 171.18 580.0 171.78 580.0 172.37 580.0 172.96 580.0 173.55 580.0 174.14 580.0 174.74 580.0 175.33 580.0 175.92 580.0 176.51 580.0 177.11 580.0 177.70 580.0 178.29 580.0 178.88 580.0 179.47 580.0 180.07 580.0 180.66 580.0 181.25 580.0 181.84 580.0 182.44 580.0 183.03 580.0 183.62 580.0 184.21 580.0 184.80 580.0 185.40 580.0 185.99 580.0 186.58 580.0 187.17 580.0 187.77 580.0 188.36 580.0 188.95 580.0 189.54 580.0 190.13 580.0 190.73 580.0 191.32 580.0 191.91 580.0 192.50 580.0 193.10 580.0 193.69 580.0 194.28 580.0 194.87 580.0 195.47 580.0 196.06 580.0 196.65 580.0 197.24 580.0 197.83 580.0 198.43 580.0 199.02 580.0 199.61 580.0 200.20 580.0 200.80 580.0 201.39 580.0 201.98 580.0 202.57 580.0 203.16 580.0 203.76 580.0 204.35 580.0 204.94 580.0 205.53 580.0 206.13 580.0 206.72 580.0 207.31 580.0 207.90 580.0 208.49 580.0 209.09 580.0 209.68 580.0 210.27 580.0 210.86 580.0 211.46 580.0 212.05 580.0 212.64 580.0 213.19 580.0 213.23 580.0 213.82 580.0 214.42 580.0 215.01 580.0 215.60 580.0 216.19 580.0 216.79 580.0 217.38 580.0 217.97 580.0 218.56 579.9 219.16 579.9 219.75 579.9 220.34 579.9 220.93 579.9 221.52 579.9 222.12 579.9 222.71 579.9 223.30 579.9 223.89 579.9 224.49 579.8 225.08 579.8 225.67 579.8 226.26 579.8 226.85 579.8 227.45 579.8 228.04 579.8 228.63 579.8 229.22 579.8 229.82 579.8 230.41 579.7 231.00 579.7 231.59 579.7 232.18 579.7 232.78 579.7 233.37 579.7 233.96 579.7 234.55 579.7 235.15 579.7 235.74 579.6 236.33 579.6 236.92 579.6 237.51 579.6 238.11 579.6 238.70 579.6 239.29 579.6 239.88 579.6 240.48 579.6 241.07 579.6 241.66 579.6 242.25 579.5 242.84 579.5 243.44 579.5 244.03 579.5 244.62 579.5 245.21 579.5 245.81 579.5 246.40 579.5 246.67 579.5 246.99 579.5 247.58 579.6 248.18 579.6 248.77 579.6 249.36 579.7 249.95 579.7 250.54 579.8 251.14 579.9 251.73 579.9 252.32 580.0 252.91 580.0 253.51 580.1 254.10 580.2 254.69 580.3 255.28 580.3 255.87 580.4 256.47 580.5 257.06 580.6 257.65 580.6 258.24 580.7 258.84 580.8 259.43 580.9 260.02 581.0 260.61 581.0 261.20 581.1 261.80 581.2 262.39 581.3 262.98 581.4 263.57 581.5 264.17 581.5 264.76 581.6 265.35 581.7 265.94 581.8 266.53 581.9 267.13 581.9 267.72 582.0 268.31 582.1 268.90 582.2 269.50 582.2 270.09 582.3 270.68 582.4 271.27 582.4 271.78 582.5 271.86 582.5 272.46 582.6 273.05 582.6 273.64 582.7 274.23 582.7 274.83 582.8 275.42 582.8 276.01 582.9 276.60 582.9 277.20 583.0 277.79 583.0 278.38 583.1 278.97 583.1 279.56 583.2 280.16 583.2 280.75 583.3 281.34 583.3 281.93 583.3 282.53 583.4 283.12 583.4 283.71 583.5 284.30 583.5 284.89 583.6 285.49 583.6 286.08 583.7 286.67 583.7 287.26 583.8 287.86 583.8 288.45 583.9 289.04 583.9 289.63 583.9 290.22 584.0 290.82 584.0 291.41 584.1 292.00 584.1 292.59 584.2 293.19 584.2 293.78 584.3 294.37 584.3 294.96 584.4 295.55 584.4 296.15 584.5 296.74 584.5 297.33 584.5 297.92 584.6 298.52 584.6 299.11 584.7 299.70 584.7 300.29 584.8 300.88 584.8 301.48 584.9 302.07 584.9 302.66 585.0 303.25 585.0 303.85 585.1 304.44 585.1 305.03 585.2 305.19 585.2 305.62 585.2 306.22 585.3 306.81 585.4 307.40 585.4 307.99 585.5 308.58 585.5 309.18 585.6 309.77 585.7 310.36 585.7 310.95 585.8 311.55 585.8 312.14 585.9 312.73 586.0 313.32 586.0 313.91 586.1 314.51 586.1 315.10 586.2 315.69 586.3 316.28 586.3 316.88 586.4 317.47 586.5 318.06 586.5 318.65 586.6 319.24 586.6 319.84 586.7 320.43 586.8 321.02 586.8 321.61 586.9 322.21 587.0 322.80 587.0 323.39 587.1 323.98 587.2 324.57 587.2 325.17 587.3 325.76 587.4 326.35 587.4 326.94 587.5 327.54 587.6 328.13 587.6 328.72 587.7 329.31 587.8 329.90 587.8 330.37 587.9 330.50 587.9 331.09 588.0 331.68 588.1 332.27 588.2 332.87 588.3 333.46 588.4 334.05 588.5 334.64 588.6 335.24 588.6 335.83 588.7 336.42 588.8 337.01 588.9 337.60 589.0 338.20 589.1 338.79 589.2 339.38 589.3 339.97 589.4 340.57 589.5 341.16 589.6 341.75 589.7 342.34 589.8 342.93 589.9 343.53 590.0 344.12 590.2 344.71 590.3 345.30 590.4 345.90 590.5 346.49 590.7 347.08 590.8 347.11 590.8 347.67 591.0 348.26 591.3 348.86 591.6 349.45 591.9 350.04 592.2 350.63 592.5 351.23 592.8 351.82 593.2 352.41 593.5 353.00 593.9 353.59 594.2 354.19 594.6 354.78 595.0 355.37 595.3 355.48 595.4 355.96 595.8 356.56 596.3 357.15 596.9 357.74 597.4 358.33 598.0 358.92 598.5 359.52 599.1 360.11 599.7 360.70 600.4 361.29 601.0 361.89 601.7 362.15 602.0 362.48 602.6 363.07 603.6 363.66 604.8 364.26 606.0 364.85 607.2 365.44 608.4 366.03 609.7 366.62 611.0 367.19 612.3 367.22 612.4 367.81 614.0 368.40 615.7 368.99 617.4 369.59 619.2 370.18 621.1 370.37 621.7 370.77 623.4 371.36 626.2 371.95 629.1 372.22 630.4 372.55 632.0 373.14 635.1 373.73 638.2 374.07 640.0 374.32 641.4 374.92 644.8 375.51 648.2 376.10 651.8 376.30 653.0 376.69 656.1 377.28 660.9 377.78 665.0 377.88 665.8 378.47 670.5 379.06 675.3 379.65 680.0 379.78 681.0 380.25 684.9 380.84 689.9 381.43 694.8 381.70 697.0 382.02 699.2 382.61 703.2 382.96 705.4 383.21 706.5 383.80 709.1 384.39 711.3 384.44 711.5 384.98 712.8 385.56 713.8 385.58 713.8 386.17 713.2 386.76 712.3 387.04 711.8 387.35 710.6 387.95 708.0 388.15 707.0 388.54 704.8 389.13 701.1 389.72 697.4 389.78 697.0 390.31 693.0 390.74 690.0 390.91 689.2 391.50 686.3 392.09 683.9 392.22 683.5 392.68 682.9 393.28 682.2 393.70 681.9 393.87 681.9 394.46 682.2 394.96 682.5 395.05 682.7 395.64 684.2 396.24 686.0 396.52 687.0 396.83 688.7 397.42 692.3 397.63 693.6 398.01 696.1 398.61 700.1 398.96 702.7 399.20 704.8 399.79 710.4 400.38 716.2 400.52 717.5 400.97 722.2 401.48 727.6 401.57 728.6 402.16 735.9 402.75 743.4 403.34 751.1 403.70 756.0 403.94 759.8 404.53 769.7 405.12 780.0 405.71 790.5 406.30 801.0 406.30 801.2 406.90 812.6 407.49 824.3 408.08 836.2 408.67 848.1 408.74 849.5 409.27 860.5 409.86 873.0 410.45 885.7 411.04 898.7 411.11 900.3 411.63 913.7 412.23 929.2 412.82 945.8 412.96 950.0 413.41 967.8 414.00 993.2 414.60 1018.3 414.81 1027.0 415.19 1039.0 415.78 1057.0 416.37 1074.4 416.97 1091.7 417.56 1109.5 417.85 1118.7 418.15 1129.3 418.59 1145.3 418.74 1150.8 419.26 1169.1 419.33 1170.8 419.93 1182.5 420.07 1185.7 420.52 1200.0 423.11 1197.3 423.70 1183.9 424.15 1169.0 424.29 1157.9 424.44 1145.3 424.74 1123.7 424.89 1115.4 425.26 1096.0 425.48 1087.0 426.07 1064.2 426.66 1042.8 426.74 1040.0 427.25 1024.1 427.78 1009.0 427.85 1007.4 428.44 994.3 428.89 984.8 429.03 982.0 429.62 970.8 430.15 960.7 430.21 959.3 430.80 946.1 431.26 936.5 431.40 934.3 431.99 925.5 432.58 917.3 432.96 912.4 433.17 910.4 433.76 905.2 434.36 900.4 434.95 895.7 435.54 890.9 435.85 888.3 436.13 885.8 436.72 880.5 437.32 875.1 437.91 869.7 438.50 864.3 438.52 864.1 439.09 858.6 439.68 852.9 440.27 847.2 440.87 841.6 441.04 840.0 441.46 836.4 441.93 832.5 442.05 831.4 442.64 826.2 443.23 821.0 443.83 815.7 444.42 810.4 445.01 805.1 445.60 799.6 445.70 798.6 446.19 793.4 446.78 787.0 447.38 780.5 447.97 773.9 448.56 767.4 448.81 764.7 449.15 761.2 449.74 754.9 450.34 748.8 450.93 742.9 451.33 739.3 451.52 738.1 452.11 734.5 452.70 731.1 453.29 728.1 453.85 725.8 453.89 725.8 454.48 725.1 455.07 724.5 455.66 724.0 456.25 723.6 456.85 723.3 456.96 723.2 457.44 723.7 458.03 724.7 458.62 725.8 459.21 726.8 459.78 727.5 459.80 727.5 460.40 726.2 460.99 724.5 461.58 722.6 462.00 721.5 462.17 721.2 462.76 720.0 463.36 718.9 463.95 717.9 464.52 717.3 464.54 717.3 465.13 718.1 465.72 719.2 466.32 720.6 466.91 722.1 467.04 722.4 467.50 724.8 468.09 728.4 468.68 732.5 469.27 737.0 469.56 739.3 469.87 744.1 470.46 754.7 471.05 766.2 471.41 773.2 471.64 778.1 472.23 790.9 472.83 804.0 473.33 815.6 473.42 817.8 474.01 833.0 474.60 849.0 475.19 866.4 475.19 866.7 475.78 895.5 476.38 926.5 476.44 930.0 476.97 956.1 477.33 975.0 477.56 989.4 478.15 1027.8 478.15 1028.0 478.74 1061.4 479.33 1092.4 479.34 1092.5 479.93 1115.1 480.44 1134.0 480.52 1136.8 481.11 1159.0 481.26 1159.0 481.85 1136.7 481.93 1134.0 482.44 1118.1 483.04 1100.8 483.33 1092.4 483.63 1085.3 484.22 1071.9 484.81 1057.2 484.89 1055.0 485.40 1031.5 485.93 1005.0 485.99 1001.2 486.59 967.5 486.89 950.0 487.18 933.0 487.77 898.2 488.00 885.0 488.36 865.3 488.95 833.6 489.33 815.0 489.55 807.3 490.14 787.4 490.37 780.0 490.73 770.3 491.11 760.0 491.32 753.0 491.91 732.5 492.07 727.7 492.51 720.1 493.10 711.0 493.69 701.8 493.70 701.6 494.28 690.8 494.67 684.3 494.87 682.4 495.47 677.6 496.06 673.3 496.65 669.2 496.96 666.9 497.24 665.0 497.83 660.9 498.43 656.9 498.89 653.9 499.02 653.2 499.61 649.9 500.20 646.8 500.79 643.7 501.38 640.9 501.41 640.8 501.98 638.8 502.57 636.8 503.16 634.9 503.75 633.1 504.34 631.3 504.67 630.4 504.94 629.7 505.53 628.3 506.12 626.9 506.71 625.6 507.30 624.3 507.90 623.0 508.49 621.8 508.52 621.7 509.08 620.8 509.67 619.8 510.26 618.9 510.86 618.0 511.45 617.1 512.04 616.2 512.63 615.3 513.22 614.5 513.63 613.9 513.81 613.7 514.41 612.9 515.00 612.2 515.59 611.5 516.18 610.8 516.77 610.1 517.37 609.4 517.96 608.8 518.55 608.1 518.81 607.8 519.14 607.5 519.73 606.9 520.33 606.3 520.92 605.7 521.51 605.1 522.10 604.6 522.69 604.0 523.29 603.5 523.88 602.9 524.47 602.4 525.06 601.9 525.26 601.7 525.65 601.4 526.25 601.0 526.84 600.6 527.43 600.1 528.02 599.7 528.61 599.3 529.20 598.9 529.80 598.5 530.39 598.1 530.98 597.8 531.57 597.4 532.16 597.0 532.76 596.6 532.96 596.5 533.35 596.3 533.94 596.0 534.53 595.7 535.12 595.3 535.72 595.0 536.31 594.7 536.90 594.4 537.49 594.1 538.08 593.8 538.68 593.5 539.27 593.2 539.86 592.9 540.45 592.7 541.04 592.4 541.64 592.1 542.23 591.9 542.59 591.7 542.82 591.6 543.41 591.4 544.00 591.3 544.59 591.1 545.19 590.9 545.78 590.7 546.37 590.6 546.96 590.4 547.55 590.2 548.15 590.1 548.74 589.9 549.33 589.8 549.92 589.6 550.51 589.5 551.11 589.4 551.70 589.2 552.29 589.1 552.30 589.1 552.88 589.0 553.47 589.0 554.07 588.9 554.66 588.8 555.25 588.7 555.84 588.7 556.43 588.6 557.03 588.5 557.62 588.5 558.21 588.4 558.80 588.3 559.39 588.3 559.98 588.2 560.58 588.2 561.17 588.1 561.76 588.0 562.35 588.0 562.94 587.9 563.54 587.9 564.13 587.8 564.72 587.8 565.31 587.7 565.90 587.7 566.50 587.6 567.09 587.6 567.68 587.6 568.27 587.5 568.86 587.5 569.46 587.4 570.05 587.4 570.37 587.4 570.64 587.4 571.23 587.4 571.82 587.5 572.42 587.5 573.01 587.5 573.60 587.5 574.19 587.6 574.78 587.6 575.37 587.7 575.97 587.7 576.56 587.7 577.15 587.8 577.74 587.8 578.33 587.9 578.93 587.9 579.52 588.0 580.11 588.0 580.70 588.1 581.29 588.1 581.89 588.1 582.48 588.2 583.07 588.2 583.66 588.3 584.25 588.3 584.85 588.3 585.44 588.4 586.03 588.4 586.62 588.4 587.21 588.5 587.81 588.5 588.15 588.5 588.40 588.5 588.99 588.5 589.58 588.4 590.17 588.4 590.76 588.4 591.36 588.3 591.95 588.3 592.54 588.3 593.13 588.2 593.72 588.2 594.32 588.2 594.91 588.1 595.50 588.1 596.09 588.0 596.68 588.0 597.28 587.9 597.87 587.9 598.46 587.9 599.05 587.8 599.64 587.8 600.24 587.7 600.83 587.6 601.42 587.6 602.01 587.5 602.60 587.5 603.20 587.4 603.79 587.4 604.38 587.3 604.97 587.2 605.56 587.2 606.15 587.1 606.75 587.0 607.34 587.0 607.93 586.9 608.52 586.8 609.11 586.8 609.71 586.7 610.30 586.6 610.89 586.6 611.48 586.5 612.07 586.4"/>
<path id="c4" d="M623.33 585.3 623.93 585.3 624.52 585.3 625.11 585.3 625.70 585.3 626.30 585.2 626.89 585.2 627.48 585.2 628.07 585.2 628.67 585.2 629.26 585.2 629.85 585.2 630.44 585.2 631.04 585.2 631.63 585.2 632.22 585.1 632.81 585.1 633.41 585.1 634.00 585.1 634.59 585.1 635.19 585.1 635.78 585.1 636.37 585.1 636.96 585.1 637.56 585.1 638.15 585.0 638.74 585.0 639.33 585.0 639.93 585.0 640.52 585.0 641.11 585.0 641.70 585.0 642.30 585.0 642.89 585.0 643.48 585.0 644.07 585.0 644.67 585.0 645.26 584.9 645.85 584.9 646.44 584.9 647.04 584.9 647.63 584.9 648.22 584.9 648.81 584.9 649.41 584.9 650.00 584.9 650.59 584.9 651.19 584.9 651.78 584.9 652.37 584.8 652.96 584.8 653.56 584.8 654.15 584.8 654.74 584.8 655.33 584.8 655.93 584.8 656.52 584.8 657.11 584.8 657.70 584.8 658.30 584.8 658.89 584.8 659.48 584.8 660.07 584.8 660.67 584.8 661.26 584.7 661.85 584.7 662.44 584.7 663.04 584.7 663.63 584.7 664.22 584.7 664.81 584.7 665.41 584.7 666.00 584.7 666.59 584.7 667.19 584.7 667.78 584.7 668.37 584.7 668.96 584.7 669.56 584.7 670.15 584.7 670.74 584.6 671.33 584.6 671.93 584.6 672.52 584.6 673.11 584.6 673.70 584.6 674.30 584.6 674.89 584.6 675.48 584.6 676.07 584.6 676.67 584.6 677.26 584.6 677.85 584.6 678.44 584.6 679.04 584.6 679.63 584.6 680.22 584.6 680.81 584.6 681.41 584.6 682.00 584.5 682.59 584.5 683.19 584.5 683.78 584.5 684.37 584.5 684.96 584.5 685.56 584.5 686.15 584.5 686.74 584.5 687.33 584.5 687.93 584.5 688.52 584.5 689.11 584.5 689.70 584.5 690.30 584.5 690.89 584.5 691.48 584.5 692.07 584.5 692.67 584.5 693.26 584.5 693.85 584.5 694.44 584.5 695.04 584.5 695.63 584.4 696.22 584.4 696.81 584.4 697.41 584.4 698.00 584.4 698.59 584.4 699.19 584.4 699.78 584.4 700.37 584.4 700.96 584.4 701.56 584.4 702.15 584.4 702.74 584.4 703.33 584.4 703.70 584.4 703.93 584.4 704.52 584.4 705.11 584.4 705.70 584.4 706.30 584.4 706.89 584.4 707.48 584.4 708.07 584.5 708.67 584.5 709.26 584.5 709.85 584.5 710.44 584.5 711.04 584.5 711.63 584.5 712.22 584.5 712.81 584.5 713.41 584.5 714.00 584.5 714.59 584.6 715.19 584.6 715.78 584.6 716.37 584.6 716.96 584.6 717.56 584.6 718.15 584.6 718.74 584.6 719.33 584.6 719.93 584.7 720.52 584.7 721.11 584.7 721.70 584.7 722.30 584.7 722.89 584.7 723.48 584.7 724.07 584.7 724.67 584.7 725.26 584.8 725.85 584.8 726.44 584.8 727.04 584.8 727.63 584.8 728.22 584.8 728.81 584.8 729.41 584.8 730.00 584.9 730.59 584.9 731.19 584.9 731.78 584.9 732.37 584.9 732.96 584.9 733.56 584.9 734.15 585.0 734.74 585.0 735.33 585.0 735.93 585.0 736.52 585.0 737.11 585.0 737.70 585.0 738.30 585.1 738.89 585.1 739.48 585.1 740.07 585.1 740.67 585.1 741.26 585.1 741.85 585.1 742.44 585.2 743.04 585.2 743.63 585.2 744.22 585.2 744.81 585.2 745.41 585.2 746.00 585.2 746.59 585.3 747.19 585.3 747.78 585.3 748.37 585.3 748.96 585.3 749.56 585.3 750.15 585.4 750.74 585.4 751.33 585.4 751.93 585.4 752.52 585.4 753.11 585.4 753.70 585.5 754.30 585.5 754.89 585.5 755.48 585.5 756.07 585.5 756.67 585.5 757.26 585.6 757.85 585.6 758.44 585.6 759.04 585.6 759.63 585.6 760.22 585.6 760.81 585.7 761.41 585.7 762.00 585.7 762.59 585.7 763.19 585.7 763.78 585.7 764.37 585.7 764.96 585.8 765.56 585.8 766.15 585.8 766.74 585.8 767.33 585.8 767.93 585.9 768.52 585.9 769.11 585.9 769.70 585.9 770.30 585.9 770.89 585.9 771.48 586.0 772.07 586.0 772.67 586.0 773.26 586.0 773.85 586.0 774.44 586.0 775.04 586.1 775.63 586.1 776.22 586.1 776.81 586.1 777.41 586.1 778.00 586.1 778.59 586.2 779.19 586.2 779.78 586.2 780.37 586.2 780.96 586.2 781.56 586.2 782.15 586.3 782.74 586.3 783.33 586.3 783.93 586.3 784.52 586.3 785.11 586.3 785.70 586.4 786.30 586.4 786.89 586.4 787.48 586.4 788.07 586.4 788.67 586.4 789.26 586.5 789.85 586.5 790.44 586.5 791.04 586.5 791.63 586.5 792.22 586.5 792.81 586.5 793.41 586.6 794.00 586.6 794.59 586.6 795.19 586.6 795.78 586.6 796.37 586.6 796.96 586.7 797.56 586.7 798.15 586.7 798.74 586.7 799.33 586.7 799.93 586.7 800.52 586.8 801.11 586.8 801.70 586.8 802.30 586.8 802.89 586.8 803.48 586.8 804.07 586.8 804.67 586.9 805.26 586.9 805.85 586.9 806.44 586.9 807.04 586.9 807.63 586.9 808.22 586.9 808.81 587.0 809.41 587.0 810.00 587.0 810.59 587.0 811.19 587.0 811.78 587.0 812.37 587.0 812.96 587.1 813.56 587.1 814.15 587.1 814.74 587.1 814.81 587.1 815.33 587.1 815.93 587.1 816.52 587.1 817.11 587.1 817.70 587.2 818.30 587.2 818.89 587.2 819.48 587.2 820.07 587.2 820.67 587.2 821.26 587.2 821.85 587.2 822.44 587.2 823.04 587.2 823.63 587.3 824.22 587.3 824.81 587.3 825.41 587.3 826.00 587.3 826.59 587.3 827.19 587.3 827.78 587.3 828.37 587.3 828.96 587.3 829.56 587.3 830.15 587.4 830.74 587.4 831.33 587.4 831.93 587.4 832.52 587.4 833.11 587.4 833.70 587.4 834.30 587.4 834.89 587.4 835.48 587.4 836.07 587.5 836.67 587.5 837.26 587.5 837.85 587.5 838.44 587.5 839.04 587.5 839.63 587.5 840.22 587.5 840.81 587.5 841.41 587.5 842.00 587.6 842.59 587.6 843.19 587.6 843.78 587.6 844.37 587.6 844.96 587.6 845.56 587.6 846.15 587.6 846.74 587.7 847.33 587.7 847.93 587.7 848.52 587.7 849.11 587.7 849.70 587.7 850.30 587.7 850.89 587.8 851.48 587.8 852.07 587.8 852.44 587.8 852.67 587.8 853.26 587.9 853.85 587.9 854.44 588.0 855.04 588.1 855.63 588.1 856.22 588.2 856.81 588.3 857.41 588.4 858.00 588.4 858.59 588.5 859.19 588.6 859.78 588.7 860.37 588.8 860.96 588.9 861.56 589.0 862.15 589.0 862.74 589.1 863.33 589.2 863.93 589.3 864.52 589.4 865.11 589.6 865.70 589.7 866.30 589.8 866.89 589.9 867.48 590.0 867.56 590.0 868.07 590.2 868.67 590.4 869.26 590.6 869.85 590.9 870.44 591.1 871.04 591.4 871.63 591.6 872.22 591.9 872.81 592.2 873.41 592.5 874.00 592.8 874.59 593.1 875.11 593.4 875.19 593.5 875.78 594.0 876.37 594.5 876.96 595.1 877.56 595.7 878.15 596.3 878.74 597.0 879.33 597.7 879.93 598.4 880.00 598.5 880.52 599.7 881.11 601.1 881.70 602.7 882.30 604.4 882.89 606.4 883.26 607.8 883.48 609.9 884.07 616.6 884.67 624.8 885.19 633.2 885.26 635.7 885.85 660.5 886.15 675.6 886.44 702.5 886.67 726.4 887.04 793.4 888.89 716.3 889.44 721.9 889.98 730.0 890.53 739.5 890.74 743.4 891.07 755.4 891.62 778.7 892.00 794.2 892.17 799.6 892.71 816.6 893.26 832.4 893.84 797.5 894.15 777.3 894.43 750.8 894.89 709.5 895.02 705.2 895.60 688.4 896.15 675.6 896.19 675.0 896.77 666.7 897.36 659.3 897.94 652.5 898.30 648.5 898.53 646.5 899.11 641.8 899.70 637.2 900.29 632.9 900.87 628.7 901.46 624.9 901.48 624.7 902.04 622.1 902.63 619.6 903.21 617.1 903.80 614.8 904.38 612.5 904.97 610.3 905.19 609.5 905.55 608.4 906.14 606.6 906.73 604.9 907.31 603.3 907.90 601.7 908.48 600.2 908.89 599.3 909.07 599.0 909.65 598.2 910.24 597.5 910.82 596.7 911.41 596.0 911.99 595.3 912.58 594.7 913.17 594.1 913.75 593.6 914.00 593.4 914.34 593.3 914.92 593.1 915.51 592.9 916.09 592.8 916.68 592.6 917.26 592.5 917.85 592.3 918.44 592.2 919.02 592.1 919.61 592.0 920.19 591.9 920.78 591.8 921.36 591.7 921.48 591.7 921.95 591.8 922.53 591.9 923.12 592.0 923.70 592.1 924.29 592.3 924.88 592.4 925.46 592.6 926.05 592.8 926.63 593.0 927.22 593.2 927.78 593.4 927.80 593.4 928.39 594.2 928.97 595.1 929.56 596.2 930.15 597.4 930.73 598.7 930.96 599.3 931.32 601.2 931.90 604.9 932.49 609.1 933.07 613.4 933.48 616.3 933.66 617.6 934.24 622.1 934.83 626.6 935.41 631.2 936.00 635.8 936.59 631.0 937.18 626.3 937.77 621.7 938.37 617.4 938.52 616.3 938.96 613.6 939.55 610.0 940.14 606.6 940.73 603.7 940.96 602.7 941.32 602.1 941.92 601.1 942.51 600.2 943.10 599.3 943.69 598.6 944.28 598.0 944.74 597.6 944.87 597.6 945.46 597.5 946.06 597.4 946.65 597.4 947.24 597.3 947.83 597.3 948.42 597.2 949.01 597.2 949.61 597.1 950.20 597.1 950.79 597.0 951.38 597.0 951.97 596.9 952.56 596.8 952.89 596.8 953.15 596.7 953.75 596.5 954.34 596.3 954.93 596.1 955.52 595.8 956.11 595.6 956.70 595.3 957.30 595.0 957.89 594.7 958.48 594.5 959.07 594.2 959.66 594.0 960.25 593.8 960.84 593.6 961.44 593.5 961.70 593.4 962.03 593.4 962.62 593.5 963.21 593.7 963.80 593.8 964.39 594.0 964.99 594.1 965.58 594.3 966.17 594.5 966.76 594.7 967.35 594.8 967.94 595.0 968.53 595.2 969.13 595.4 969.72 595.5 970.31 595.6 970.90 595.8 971.49 595.9 971.78 595.9 972.08 595.9 972.68 595.8 973.27 595.7 973.86 595.7 974.45 595.6 975.04 595.5 975.63 595.4 976.22 595.3 976.82 595.2 977.41 595.1 978.00 595.0 978.59 594.9 979.18 594.8 979.77 594.7 980.37 594.5 980.96 594.4 981.55 594.3 982.14 594.2 982.73 594.1 983.32 593.9 983.91 593.8 984.51 593.7 985.10 593.6 985.69 593.4 986.28 593.3 986.87 593.2 987.46 593.1 988.06 593.0 988.65 592.8 989.24 592.7 989.83 592.6 990.42 592.5 990.59 592.5 991.01 592.4 991.60 592.4 992.20 592.3 992.79 592.2 993.38 592.1 993.97 592.0 994.56 591.9 995.15 591.8 995.75 591.7 996.34 591.6 996.93 591.5 997.52 591.4 998.11 591.4 998.70 591.3 999.29 591.2 999.89 591.1 1000.48 591.0 1001.07 590.9 1001.66 590.8 1002.25 590.8 1002.84 590.7 1003.44 590.6 1004.03 590.5 1004.62 590.5 1005.21 590.4 1005.80 590.3 1006.39 590.3 1006.98 590.2 1007.58 590.1 1008.17 590.1 1008.76 590.0 1009.35 590.0 1009.41 590.0 1009.94 590.0 1010.53 590.0 1011.13 590.0 1011.72 590.0 1012.31 590.0 1012.90 590.0 1013.49 590.0 1014.08 590.0 1014.67 590.0 1015.27 590.0 1015.86 590.0 1016.45 590.0 1017.04 590.0 1017.63 590.0 1018.22 590.0 1018.82 590.0 1019.41 590.0 1020.00 590.0 1020.59 590.0 1021.18 590.0 1021.77 590.0 1022.36 590.0 1022.96 590.0 1023.55 590.0 1024.14 590.0 1024.73 590.0 1025.32 590.0 1025.91 590.0 1026.51 590.0 1027.10 590.0 1027.69 590.0 1028.28 590.0 1028.87 590.0 1029.46 590.0 1030.05 590.0 1030.65 590.0 1031.24 590.0 1031.83 590.0 1032.42 590.0 1033.01 590.0 1033.60 590.0 1034.20 590.0 1034.79 590.0 1035.38 590.0 1035.97 590.0 1036.56 590.0 1037.04 590.0 1037.15 590.0 1037.74 590.0 1038.34 590.0 1038.93 590.1 1039.52 590.1 1040.11 590.1 1040.70 590.1 1041.29 590.1 1041.89 590.2 1042.48 590.2 1043.07 590.2 1043.66 590.2 1044.25 590.3 1044.84 590.3 1045.43 590.3 1046.03 590.3 1046.62 590.4 1047.21 590.4 1047.80 590.4 1048.39 590.5 1048.98 590.5 1049.58 590.5 1050.17 590.6 1050.76 590.6 1051.35 590.6 1051.94 590.7 1052.53 590.7 1053.12 590.7 1053.72 590.8 1054.31 590.8 1054.90 590.8 1055.49 590.9 1056.08 590.9 1056.67 590.9 1057.27 591.0 1057.86 591.0 1058.45 591.1 1059.04 591.1 1059.63 591.1 1060.22 591.2 1060.81 591.2 1061.41 591.2 1062.00 591.3 1062.59 591.3 1063.18 591.4 1063.77 591.4 1064.36 591.5 1064.96 591.5 1065.55 591.5 1066.14 591.6 1066.73 591.6 1067.32 591.7 1067.91 591.7 1068.50 591.7 1069.10 591.8 1069.69 591.8 1070.28 591.9 1070.87 591.9 1071.46 591.9 1072.05 592.0 1072.65 592.0 1073.24 592.1 1073.83 592.1 1074.42 592.2 1075.01 592.2 1075.60 592.2 1076.19 592.3 1076.79 592.3 1077.38 592.4 1077.97 592.4 1078.56 592.4 1079.15 592.5 1079.74 592.5 1080.34 592.6 1080.93 592.6 1081.52 592.6 1082.11 592.7 1082.70 592.7 1083.29 592.8 1083.88 592.8 1084.48 592.8 1085.07 592.9 1085.66 592.9 1086.25 593.0 1086.84 593.0 1087.43 593.0 1088.02 593.1 1088.62 593.1 1089.21 593.1 1089.80 593.2 1090.39 593.2 1090.98 593.2 1091.57 593.3 1092.17 593.3 1092.76 593.3 1093.35 593.4 1093.94 593.4 1094.53 593.4 1095.12 593.5 1095.71 593.5 1096.31 593.5 1096.90 593.6 1097.49 593.6 1098.08 593.6 1098.67 593.6 1099.26 593.7 1099.86 593.7 1100.45 593.7 1101.04 593.7 1101.63 593.8 1102.22 593.8 1102.81 593.8 1103.40 593.8 1104.00 593.8 1104.59 593.9 1105.18 593.9 1105.77 593.9 1105.93 593.9 1106.36 593.9 1106.95 593.9 1107.55 593.9 1108.14 593.9 1108.73 593.9 1109.32 593.8 1109.91 593.8 1110.50 593.8 1111.09 593.8 1111.69 593.8 1112.28 593.8 1112.87 593.8 1113.46 593.7 1114.05 593.7 1114.64 593.7 1115.24 593.7 1115.83 593.7 1116.42 593.7 1117.01 593.6 1117.60 593.6 1118.19 593.6 1118.78 593.6 1119.38 593.6 1119.97 593.6 1120.56 593.5 1121.15 593.5 1121.74 593.5 1122.33 593.5 1122.93 593.5 1123.52 593.4 1124.11 593.4 1124.70 593.4 1125.29 593.4 1125.88 593.4 1126.47 593.3 1127.07 593.3 1127.66 593.3 1128.25 593.3 1128.84 593.3 1129.43 593.2 1130.02 593.2 1130.62 593.2 1131.21 593.2 1131.80 593.2 1132.39 593.2 1132.98 593.1 1133.57 593.1 1134.16 593.1 1134.76 593.1 1135.35 593.1 1135.94 593.1 1136.53 593.0 1137.12 593.0 1137.71 593.0 1138.31 593.0 1138.90 593.0 1139.49 593.0 1140.08 593.0 1140.67 592.9 1141.26 592.9 1141.85 592.9 1142.45 592.9 1143.04 592.9 1143.56 592.9 1143.63 592.9 1144.22 592.9 1144.81 592.9 1145.40 592.9 1146.00 592.9 1146.59 592.9 1147.18 592.9 1147.77 592.9 1148.36 592.9 1148.95 592.9 1149.54 592.9 1150.14 593.0 1150.73 593.0 1151.32 593.0 1151.91 593.0 1152.50 593.0 1153.09 593.0 1153.69 593.0 1154.28 593.0 1154.87 593.0 1155.46 593.0 1156.05 593.0 1156.64 593.0 1157.23 593.0 1157.83 593.0 1158.42 593.0 1159.01 593.0 1159.60 593.1 1160.19 593.1 1160.78 593.1 1161.38 593.1 1161.97 593.1 1162.56 593.1 1163.15 593.1 1163.74 593.1 1164.33 593.1 1164.92 593.1 1165.52 593.1 1166.11 593.2 1166.70 593.2 1167.29 593.2 1167.88 593.2 1168.47 593.2 1169.07 593.2 1169.66 593.2 1170.25 593.2 1170.84 593.2 1171.43 593.3 1172.02 593.3 1172.61 593.3 1173.21 593.3 1173.80 593.3 1174.39 593.3 1174.98 593.3 1175.57 593.4 1176.16 593.4 1176.76 593.4 1177.35 593.4 1177.48 593.4 1177.94 593.6 1178.53 594.0 1179.12 594.5 1179.71 595.0 1180.30 595.6 1180.59 595.9 1180.90 596.6 1181.49 598.4 1182.08 600.5 1182.67 602.4 1183.11 603.6 1183.26 603.8 1183.85 604.7 1184.45 605.4 1185.04 606.0 1185.63 603.7 1186.22 601.6 1186.81 599.5 1186.89 599.3 1187.41 597.9 1188.00 596.3 1188.59 594.9 1189.19 593.7 1189.41 593.4 1189.78 593.3 1190.37 593.3 1190.96 593.2 1191.56 593.1 1192.15 593.1 1192.74 593.0 1193.33 592.9 1193.93 592.9 1194.52 592.8 1195.11 592.8 1195.70 592.7 1196.30 592.7 1196.89 592.7 1197.48 592.6 1198.07 592.6 1198.67 592.6 1199.26 592.5 1199.85 592.5 1200.00 592.5 1200.44 592.5 1201.04 592.5 1201.63 592.5 1202.22 592.5 1202.81 592.5 1203.41 592.5 1204.00 592.5 1204.59 592.5 1205.19 592.5 1205.78 592.6 1206.37 592.6 1206.96 592.6 1207.56 592.6 1208.15 592.6 1208.74 592.6 1209.33 592.6 1209.93 592.6 1210.52 592.6 1211.11 592.6 1211.70 592.6 1212.30 592.6 1212.89 592.7 1213.48 592.7 1214.07 592.7 1214.67 592.7 1215.26 592.7 1215.85 592.7 1216.44 592.7 1217.04 592.7 1217.63 592.7 1218.22 592.7 1218.81 592.8 1219.41 592.8 1220.00 592.8 1220.59 592.8 1221.19 592.8 1221.78 592.8 1222.37 592.8 1222.96 592.8 1223.56 592.9 1224.15 592.9 1224.74 592.9 1225.19 592.9 1225.33 592.9 1225.93 593.0 1226.52 593.0 1227.11 593.1 1227.70 593.2 1228.30 593.3 1228.89 593.4 1229.48 593.5 1230.07 593.6 1230.67 593.7 1231.26 593.8 1231.85 593.9 1232.44 594.0 1233.04 594.1 1233.63 594.2 1234.22 594.3 1234.81 594.4 1235.41 594.5 1236.00 594.6 1236.59 594.8 1237.19 594.9 1237.78 595.0 1238.37 595.2 1238.96 595.4 1239.56 595.5 1240.15 595.7 1240.74 595.9 1241.33 596.1 1241.93 596.4 1242.52 596.6 1243.11 596.8 1243.70 597.0 1244.30 597.2 1244.89 597.4 1245.48 597.7 1246.07 597.9 1246.67 598.1 1247.26 598.3 1247.78 598.5 1247.85 598.5 1248.44 598.8 1249.04 599.0 1249.63 599.2 1250.22 599.4 1250.81 599.6 1251.41 599.8 1252.00 600.1 1252.59 600.3 1253.19 600.6 1253.78 600.8 1254.07 601.0 1254.37 601.3 1254.96 602.0 1255.56 602.8 1256.15 603.7 1256.74 604.6 1257.33 605.6 1257.93 606.7 1258.52 607.8 1259.11 610.2 1259.70 612.9 1260.30 615.9 1260.89 619.3 1260.96 619.7 1261.48 624.7 1262.07 631.0 1262.67 638.5 1262.89 641.7 1263.26 653.2 1263.85 675.6 1263.85 675.6 1264.44 708.7 1264.74 726.4 1265.04 746.4 1265.63 788.3 1267.85 697.6 1268.39 708.3 1268.93 720.9 1269.47 735.0 1269.78 743.4 1270.01 753.0 1270.55 777.3 1271.09 803.9 1271.63 832.4 1272.22 789.2 1272.59 760.3 1272.80 742.1 1273.39 689.7 1273.56 675.6 1273.97 647.0 1274.07 641.7 1274.56 632.0 1275.14 623.0 1275.41 619.7 1275.73 617.8 1276.32 614.7 1276.90 612.0 1277.49 609.5 1277.93 607.8 1278.07 607.4 1278.66 605.9 1279.25 604.4 1279.83 603.1 1280.42 601.8 1281.00 600.6 1281.59 599.5 1281.70 599.3 1282.18 598.8 1282.76 598.2 1283.35 597.6 1283.93 597.0 1284.52 596.5 1285.10 596.0 1285.69 595.6 1286.28 595.2 1286.67 595.0 1286.86 595.0 1287.45 594.9 1288.03 594.8 1288.62 594.7 1289.21 594.6 1289.79 594.6 1290.38 594.5 1290.96 594.4 1291.55 594.4 1292.13 594.3 1292.72 594.2 1293.31 594.2 1293.89 594.1 1294.48 594.1 1295.06 594.0 1295.65 594.0 1296.24 594.0 1296.82 593.9 1297.41 593.9"/>
</defs>
<g transform="scale(1.35,1)" fill="none" stroke="#0023a0" stroke-linejoin="miter" stroke-miterlimit="3" stroke-linecap="butt">
<use href="#c3" stroke-width="4.4" stroke-opacity="0.35"/>
<use href="#c4" stroke-width="4.4" stroke-opacity="0.35"/>
<use href="#c3" stroke-width="2.6"/>
<use href="#c4" stroke-width="2.6"/>
</g>
<defs>
<path id="c5" d="M167.63 73.3 168.22 73.3 168.81 73.4 169.41 73.4 170.00 73.5 170.59 73.5 171.18 73.6 171.78 73.6 172.37 73.7 172.96 73.7 173.55 73.7 174.14 73.8 174.74 73.8 175.33 73.9 175.92 73.9 176.51 74.0 177.11 74.0 177.70 74.1 178.29 74.1 178.88 74.1 179.47 74.2 180.07 74.2 180.66 74.3 181.25 74.3 181.84 74.4 182.44 74.4 183.03 74.5 183.62 74.5 184.21 74.5 184.80 74.6 185.40 74.6 185.99 74.7 186.58 74.7 187.17 74.8 187.77 74.8 188.36 74.9 188.95 74.9 189.54 74.9 190.13 75.0 190.73 75.0 191.32 75.1 191.91 75.1 192.50 75.2 193.10 75.2 193.69 75.3 194.28 75.3 194.87 75.3 195.47 75.4 196.06 75.4 196.65 75.5 197.24 75.5 197.83 75.6 198.43 75.6 199.02 75.7 199.61 75.7 200.20 75.8 200.80 75.8 201.39 75.8 201.98 75.9 202.57 75.9 203.16 76.0 203.76 76.0 204.35 76.1 204.94 76.1 205.53 76.2 206.13 76.2 206.72 76.2 207.31 76.3 207.41 76.3 207.90 76.3 208.49 76.4 209.09 76.4 209.68 76.5 210.27 76.5 210.86 76.6 211.46 76.6 212.05 76.7 212.64 76.7 213.23 76.8 213.82 76.8 214.42 76.8 215.01 76.9 215.60 76.9 216.19 77.0 216.79 77.0 217.38 77.1 217.97 77.1 218.56 77.2 219.16 77.2 219.75 77.3 220.34 77.3 220.93 77.3 221.52 77.4 222.12 77.4 222.71 77.5 223.30 77.5 223.89 77.6 224.49 77.6 225.08 77.7 225.67 77.7 226.26 77.8 226.85 77.8 227.45 77.8 228.04 77.9 228.63 77.9 229.22 78.0 229.82 78.0 230.41 78.1 231.00 78.1 231.59 78.2 232.18 78.2 232.78 78.3 233.37 78.3 233.96 78.4 234.55 78.4 235.15 78.5 235.74 78.5 236.33 78.5 236.92 78.6 237.51 78.6 238.11 78.7 238.70 78.7 239.29 78.8 239.88 78.8 240.48 78.9 241.07 78.9 241.66 79.0 242.25 79.0 242.84 79.1 243.44 79.1 244.03 79.2 244.62 79.2 245.21 79.3 245.81 79.3 246.40 79.4 246.67 79.4 246.99 79.4 247.58 79.5 248.18 79.6 248.77 79.6 249.36 79.7 249.95 79.7 250.54 79.8 251.14 79.9 251.73 79.9 252.32 80.0 252.91 80.0 253.51 80.1 254.10 80.2 254.69 80.2 255.28 80.3 255.87 80.4 256.47 80.4 257.06 80.5 257.65 80.5 258.24 80.6 258.84 80.7 259.43 80.7 260.02 80.8 260.61 80.9 261.20 80.9 261.80 81.0 262.39 81.1 262.98 81.1 263.57 81.2 264.17 81.3 264.76 81.3 265.35 81.4 265.94 81.5 266.53 81.5 267.13 81.6 267.72 81.6 268.31 81.7 268.90 81.8 269.50 81.8 270.09 81.9 270.68 82.0 271.27 82.0 271.86 82.1 272.46 82.2 273.05 82.2 273.64 82.3 274.23 82.4 274.83 82.4 275.42 82.5 276.01 82.6 276.60 82.6 277.20 82.7 277.79 82.8 278.38 82.8 278.97 82.9 279.56 83.0 280.16 83.0 280.75 83.1 281.34 83.2 281.48 83.2 281.93 83.3 282.53 83.3 283.12 83.4 283.71 83.5 284.30 83.5 284.89 83.6 285.49 83.7 286.08 83.8 286.67 83.8 287.26 83.9 287.86 84.0 288.45 84.0 289.04 84.1 289.63 84.2 290.22 84.3 290.82 84.3 291.41 84.4 292.00 84.5 292.59 84.5 293.19 84.6 293.78 84.7 294.37 84.8 294.96 84.8 295.55 84.9 296.15 85.0 296.74 85.1 297.33 85.1 297.92 85.2 298.52 85.3 299.11 85.4 299.70 85.4 300.29 85.5 300.88 85.6 301.48 85.7 302.07 85.8 302.66 85.8 303.25 85.9 303.85 86.0 304.44 86.1 305.03 86.2 305.19 86.2 305.62 86.3 306.22 86.4 306.81 86.5 307.40 86.6 307.99 86.7 308.58 86.9 309.18 87.0 309.77 87.1 310.36 87.2 310.95 87.4 311.55 87.5 312.14 87.6 312.73 87.7 313.32 87.9 313.91 88.0 314.51 88.1 315.10 88.3 315.69 88.4 316.28 88.5 316.88 88.6 317.47 88.8 318.06 88.9 318.52 89.0 318.65 89.0 319.24 89.2 319.84 89.3 320.43 89.4 321.02 89.6 321.61 89.7 322.21 89.8 322.80 90.0 323.39 90.1 323.98 90.2 324.57 90.3 325.17 90.5 325.76 90.6 326.35 90.8 326.94 90.9 327.54 91.0 328.13 91.2 328.72 91.3 329.31 91.5 329.90 91.7 330.37 91.8 330.50 91.9 331.09 92.1 331.68 92.4 332.27 92.8 332.87 93.1 333.46 93.5 334.05 93.8 334.64 94.2 335.24 94.5 335.83 94.8 336.42 95.0 337.01 95.2 337.04 95.2 337.60 95.2 338.20 95.2 338.79 95.2 339.38 95.1 339.97 95.1 340.57 95.1 341.16 95.1 341.75 95.1 342.34 95.1 342.93 95.0 343.53 95.0 343.70 95.0 344.12 95.0 344.71 94.9 345.30 94.8 345.90 94.7 346.49 94.6 347.08 94.5 347.67 94.4 348.26 94.3 348.86 94.2 349.45 94.1 350.04 94.0 350.37 94.0 350.63 94.1 351.23 94.3 351.82 94.5 352.41 94.9 353.00 95.2 353.59 95.5 354.07 95.8 354.19 95.9 354.78 96.4 355.37 97.0 355.96 97.5 356.56 98.1 357.04 98.6 357.15 98.7 357.74 99.3 358.33 99.9 358.92 100.4 359.52 101.0 360.11 101.6 360.70 102.3 360.74 102.3 361.29 103.0 361.89 103.8 362.48 104.7 363.07 105.5 363.66 106.4 363.70 106.5 364.26 107.5 364.85 108.7 365.44 109.9 366.03 111.1 366.62 112.3 367.22 113.6 367.41 114.0 367.81 115.0 368.40 116.6 368.99 118.3 369.59 120.0 370.18 121.7 370.37 122.3 370.77 123.8 371.36 126.0 371.95 128.3 372.55 130.7 373.14 133.2 373.33 134.0 373.73 135.9 374.32 138.7 374.92 141.7 375.51 144.7 375.56 145.0 376.10 148.5 376.69 152.5 377.28 156.6 377.78 160.0 377.88 160.7 378.47 165.3 379.06 169.9 379.65 174.5 379.78 175.4 380.25 178.7 380.84 182.7 381.43 186.7 381.48 187.0 382.02 190.4 382.61 193.9 382.96 195.8 383.21 196.8 383.80 199.0 384.22 200.3 384.39 200.6 384.98 201.5 385.48 202.0 385.58 202.0 386.17 201.5 386.76 200.8 387.04 200.5 387.35 199.9 387.95 198.5 388.37 197.3 388.54 196.5 389.13 193.1 389.48 191.0 389.72 189.7 390.31 186.5 390.52 185.6 390.91 184.8 391.48 183.8 391.50 183.8 392.09 183.4 392.44 183.2 392.68 183.4 393.28 184.0 393.70 184.5 393.87 184.9 394.46 186.4 394.81 187.5 395.05 188.5 395.64 191.3 396.07 193.5 396.24 194.5 396.83 198.5 397.33 202.0 397.42 202.7 398.01 207.5 398.61 212.4 399.20 217.5 399.26 218.0 399.79 222.9 400.38 228.5 400.97 234.4 401.04 235.0 401.57 241.2 402.16 248.3 402.75 255.6 403.34 263.2 403.85 270.0 403.94 271.4 404.53 281.7 405.12 292.6 405.71 303.4 406.15 311.0 406.30 313.3 406.90 321.4 407.49 329.1 408.08 336.7 408.67 344.8 409.26 353.4 409.27 353.5 409.86 366.5 410.45 380.6 411.04 394.3 411.11 395.8 411.63 405.1 412.23 415.7 412.44 420.0 412.82 432.2 413.41 454.1 414.00 476.9 414.30 487.8 414.60 498.5 415.19 519.7 415.78 540.5 416.22 555.6 416.37 560.2 416.97 577.4 417.56 595.0 417.56 595.1 418.15 616.3 418.30 621.6 418.74 638.0 418.96 645.4 419.33 653.3 419.78 662.0 419.93 664.9 420.52 676.3 423.26 666.0 423.85 645.4 423.85 645.3 424.15 621.6 424.44 600.3 424.44 600.0 424.96 572.3 425.03 569.1 425.56 544.8 425.62 541.3 426.00 520.0 426.21 511.2 426.59 496.5 426.80 489.3 427.33 472.0 427.39 470.5 427.98 455.7 428.30 448.3 428.57 443.0 429.16 432.3 429.63 424.0 429.75 421.9 430.34 412.0 430.93 402.6 431.11 400.0 431.52 395.6 432.11 389.8 432.70 384.1 432.81 383.0 433.29 378.1 433.89 372.1 434.48 366.0 434.67 364.0 435.07 359.4 435.66 352.4 436.25 345.4 436.84 338.6 436.89 338.0 437.43 332.8 438.02 327.2 438.61 321.7 439.20 316.3 439.79 311.0 440.38 305.7 440.74 302.5 440.97 300.7 441.56 296.0 442.15 291.5 442.74 287.0 443.33 282.5 443.92 277.9 444.44 273.7 444.51 273.1 445.10 267.6 445.69 261.8 446.28 256.0 446.87 250.2 447.46 244.4 448.05 238.9 448.15 238.0 448.64 233.8 449.23 228.8 449.82 223.9 450.41 219.2 451.00 214.9 451.33 212.7 451.59 211.7 452.19 209.4 452.78 207.3 453.37 205.5 453.85 204.2 453.96 204.1 454.55 203.5 455.14 202.9 455.73 202.5 456.30 202.2 456.32 202.2 456.91 202.8 457.50 203.7 458.09 204.7 458.68 205.4 458.89 205.6 459.27 205.6 459.86 205.7 460.45 205.7 461.04 205.8 461.48 205.8 461.63 205.8 462.22 205.7 462.81 205.7 463.40 205.6 463.93 205.6 463.99 205.6 464.58 206.2 465.17 207.0 465.76 208.0 466.35 209.1 466.44 209.3 466.94 212.0 467.53 215.8 468.12 220.2 468.71 224.9 468.89 226.3 469.30 231.1 469.89 238.6 470.49 246.6 471.08 255.0 471.41 260.0 471.67 265.1 472.26 277.3 472.85 290.6 473.33 302.5 473.44 306.2 474.03 329.5 474.59 353.4 474.62 354.5 475.21 381.7 475.80 409.5 475.85 412.0 476.39 438.8 476.98 467.4 477.04 470.0 477.57 488.4 478.16 507.3 478.75 525.8 479.33 544.8 479.34 545.0 479.93 567.0 480.44 586.4 480.52 589.3 481.11 611.4 481.26 611.4 481.85 589.1 481.93 586.4 482.44 571.1 483.04 554.2 483.33 544.8 483.63 532.1 484.22 504.1 484.37 496.5 484.81 467.7 485.11 448.3 485.40 434.2 485.99 407.3 486.15 400.0 486.59 375.7 487.18 342.1 487.41 330.0 487.77 314.6 488.36 291.1 488.52 285.0 488.95 269.7 489.55 250.3 489.56 250.0 490.14 237.1 490.73 225.1 491.11 217.7 491.32 214.1 491.91 204.3 492.51 195.1 492.74 191.6 493.10 187.6 493.69 181.4 494.28 175.2 494.37 174.3 494.87 168.5 495.47 161.6 495.93 156.9 496.06 156.1 496.65 152.8 497.24 149.8 497.83 147.1 498.43 144.3 498.52 143.9 499.02 141.9 499.61 139.6 500.20 137.4 500.79 135.2 501.38 133.1 501.98 131.1 502.07 130.8 502.57 129.5 503.16 127.9 503.75 126.4 504.34 125.0 504.94 123.6 505.53 122.2 505.93 121.3 506.12 120.9 506.71 119.9 507.30 118.8 507.90 117.8 508.49 116.8 509.08 115.8 509.67 114.9 510.26 113.9 510.86 113.0 511.11 112.6 511.45 112.2 512.04 111.4 512.63 110.6 513.22 109.9 513.81 109.2 514.41 108.4 515.00 107.7 515.59 107.0 516.18 106.3 516.77 105.7 517.37 105.0 517.56 104.8 517.96 104.4 518.55 103.9 519.14 103.4 519.73 103.0 520.33 102.5 520.92 102.0 521.51 101.5 522.10 101.1 522.69 100.6 523.29 100.2 523.88 99.7 524.47 99.3 525.06 98.8 525.26 98.7 525.65 98.5 526.25 98.1 526.84 97.7 527.43 97.4 528.02 97.0 528.61 96.7 529.20 96.3 529.80 96.0 530.39 95.7 530.98 95.3 531.57 95.0 532.16 94.7 532.76 94.4 532.96 94.3 533.35 94.1 533.94 93.9 534.53 93.7 535.12 93.5 535.72 93.2 536.31 93.0 536.90 92.8 537.49 92.6 538.08 92.4 538.68 92.2 539.27 92.0 539.86 91.8 540.45 91.6 541.04 91.4 541.64 91.2 542.23 91.0 542.59 90.9 542.82 90.8 543.41 90.7 544.00 90.5 544.59 90.4 545.19 90.2 545.78 90.1 546.37 89.9 546.96 89.8 547.55 89.7 548.15 89.5 548.74 89.4 549.33 89.3 549.92 89.1 550.51 89.0 551.11 88.9 551.70 88.8 552.29 88.7 552.30 88.7 552.88 88.7 553.47 88.6 554.07 88.6 554.66 88.5 555.25 88.5 555.84 88.5 556.43 88.4 557.03 88.4 557.62 88.4 558.21 88.3 558.80 88.3 559.39 88.3 559.98 88.3 560.58 88.2 561.17 88.2 561.76 88.2 562.35 88.1 562.94 88.1 563.54 88.1 564.13 88.1 564.72 88.0 565.31 88.0 565.90 88.0 566.50 88.0 567.09 87.9 567.68 87.9 568.27 87.9 568.86 87.9 569.46 87.8 570.05 87.8 570.37 87.8 570.64 87.8 571.23 87.8 571.82 87.8 572.42 87.7 573.01 87.7 573.60 87.7 574.19 87.7 574.78 87.7 575.37 87.7 575.97 87.6 576.56 87.6 577.15 87.6 577.74 87.6 578.33 87.6 578.93 87.6 579.52 87.5 580.11 87.5 580.70 87.5 581.29 87.5 581.89 87.5 582.48 87.5 583.07 87.4 583.66 87.4 584.25 87.4 584.85 87.4 585.44 87.4 586.03 87.4 586.62 87.3 587.21 87.3 587.81 87.3 588.15 87.3 588.40 87.3 588.99 87.3 589.58 87.2 590.17 87.2 590.76 87.2 591.36 87.2 591.95 87.1 592.54 87.1 593.13 87.1 593.72 87.1 594.32 87.0 594.91 87.0 595.50 87.0 596.09 86.9 596.68 86.9 597.28 86.9 597.87 86.9 598.46 86.8 599.05 86.8 599.64 86.8 600.24 86.7 600.83 86.7 601.42 86.7 602.01 86.6 602.60 86.6 603.20 86.6 603.79 86.6 604.38 86.5 604.97 86.5 605.56 86.5 606.15 86.4 606.75 86.4 607.34 86.4 607.93 86.3 608.52 86.3 609.11 86.3 609.71 86.2 610.30 86.2 610.89 86.2 611.48 86.1 612.07 86.1"/>
<path id="c6" d="M624.59 83.4 625.19 82.7 625.78 82.0 626.37 81.4 626.96 80.9 627.56 80.4 628.15 80.1 628.37 80.0 628.74 80.2 629.33 80.6 629.93 81.2 630.52 81.7 631.11 82.3 631.70 82.8 632.15 83.0 632.30 83.0 632.89 83.0 633.48 83.1 634.07 83.1 634.67 83.1 635.26 83.2 635.85 83.2 636.44 83.2 637.04 83.2 637.63 83.3 638.22 83.3 638.81 83.3 639.41 83.3 640.00 83.3 640.59 83.4 641.19 83.4 641.78 83.4 642.37 83.4 642.96 83.4 643.56 83.5 644.15 83.5 644.44 83.5 644.74 83.5 645.33 83.5 645.93 83.6 646.52 83.6 647.11 83.6 647.70 83.7 648.30 83.7 648.89 83.7 649.48 83.8 650.07 83.8 650.67 83.9 651.26 83.9 651.85 83.9 652.44 84.0 653.04 84.0 653.63 84.0 654.22 84.1 654.81 84.1 655.41 84.2 656.00 84.2 656.59 84.2 657.19 84.3 657.78 84.3 658.37 84.3 658.96 84.4 659.56 84.4 660.15 84.4 660.74 84.5 661.33 84.5 661.93 84.5 662.52 84.5 663.11 84.6 663.70 84.6 664.30 84.6 664.89 84.6 665.48 84.7 666.07 84.7 666.67 84.7 667.26 84.7 667.85 84.6 668.44 84.6 669.04 84.6 669.63 84.5 670.22 84.5 670.81 84.4 671.41 84.4 672.00 84.3 672.59 84.2 673.19 84.2 673.78 84.1 674.37 84.0 674.96 84.0 675.56 83.9 676.15 83.8 676.74 83.8 677.33 83.7 677.93 83.6 678.52 83.6 679.11 83.5 679.70 83.5 680.30 83.4 680.89 83.3 681.48 83.3 682.07 83.2 682.67 83.2 683.26 83.1 683.85 83.1 684.44 83.1 685.04 83.0 685.48 83.0 685.63 83.0 686.22 83.0 686.81 83.1 687.41 83.1 688.00 83.2 688.59 83.2 689.19 83.3 689.78 83.3 690.37 83.4 690.96 83.4 691.56 83.5 692.15 83.6 692.74 83.6 693.33 83.7 693.93 83.8 694.52 83.8 695.11 83.9 695.70 84.0 696.30 84.1 696.89 84.1 697.48 84.2 698.07 84.3 698.67 84.4 699.26 84.4 699.85 84.5 700.44 84.6 701.04 84.7 701.63 84.8 702.22 84.9 702.81 84.9 703.41 85.0 704.00 85.1 704.59 85.2 705.19 85.3 705.78 85.4 706.37 85.4 706.96 85.5 707.56 85.6 708.15 85.7 708.74 85.8 709.33 85.8 709.93 85.9 710.52 86.0 710.59 86.0 711.11 86.1 711.70 86.2 712.30 86.2 712.89 86.3 713.48 86.4 714.07 86.5 714.67 86.6 715.26 86.7 715.85 86.8 716.44 86.8 717.04 86.9 717.63 87.0 718.22 87.1 718.81 87.2 719.41 87.3 720.00 87.4 720.59 87.5 721.19 87.5 721.78 87.6 722.37 87.7 722.96 87.8 723.56 87.9 724.15 88.0 724.74 88.1 725.33 88.2 725.93 88.3 726.52 88.4 727.11 88.5 727.70 88.7 728.30 88.8 728.89 88.9 729.41 89.0 729.48 89.0 730.07 89.2 730.67 89.5 731.26 89.7 731.85 89.9 732.44 90.2 733.04 90.4 733.63 90.7 734.22 91.0 734.81 91.2 735.41 91.5 736.00 91.9 736.59 92.2 736.96 92.4 737.19 92.6 737.78 93.3 738.37 94.0 738.96 94.8 739.56 95.6 740.15 96.5 740.74 97.4 741.33 98.3 741.33 98.3 741.93 99.8 742.52 101.4 743.11 103.2 743.70 105.0 744.30 107.1 744.44 107.6 744.89 110.3 745.48 114.1 746.07 118.4 746.67 123.1 747.04 126.3 747.26 129.6 747.85 139.6 748.44 151.0 748.89 160.2 749.04 164.6 749.63 184.2 750.15 202.5 750.22 205.4 750.81 229.4 751.41 253.4 751.41 253.4 752.00 275.0 752.59 295.8 753.19 313.6 753.78 330.5 754.22 330.5 754.77 316.0 755.19 304.0 755.32 298.9 755.87 276.8 756.42 254.2 756.44 253.4 756.97 232.2 757.33 219.5 757.52 215.9 758.07 207.6 758.61 207.2 759.15 206.6 759.56 206.0 759.69 204.5 760.23 195.4 760.74 185.6 760.77 185.0 761.31 173.7 761.85 161.9 762.41 161.4 762.96 161.1 763.33 161.0 763.52 161.6 764.07 164.0 764.63 167.4 765.19 171.2 765.78 171.0 766.37 170.7 766.96 170.4 767.11 170.3 767.55 168.4 768.14 164.7 768.73 161.1 768.89 160.2 769.32 158.6 769.91 156.5 770.50 154.5 770.89 153.4 771.09 153.1 771.68 152.3 772.27 151.6 772.86 150.8 773.33 150.0 773.45 149.5 774.04 146.3 774.63 142.5 775.22 138.3 775.26 138.0 775.81 132.0 776.40 124.8 776.99 118.3 777.04 117.8 777.58 114.6 778.17 111.3 778.76 108.3 779.35 105.5 779.63 104.2 779.94 103.1 780.53 101.0 781.12 99.0 781.71 97.1 782.30 95.3 782.81 94.0 782.89 93.9 783.48 93.2 784.07 92.5 784.66 91.8 785.25 91.3 785.84 90.8 785.93 90.7 786.43 90.5 787.02 90.4 787.61 90.2 788.20 90.1 788.79 89.9 789.38 89.8 789.97 89.7 790.56 89.6 791.15 89.4 791.74 89.3 792.33 89.2 792.92 89.1 793.51 89.0 794.10 88.9 794.69 88.8 795.28 88.7 795.87 88.6 796.46 88.5 797.05 88.3 797.64 88.2 798.23 88.1 798.52 88.0 798.82 87.9 799.41 87.7 800.00 87.5 800.59 87.2 801.18 87.0 801.77 86.8 802.36 86.5 802.95 86.3 803.54 86.0 804.13 85.8 804.72 85.5 805.31 85.3 805.90 85.0 806.49 84.8 807.08 84.5 807.67 84.3 808.26 84.0 808.85 83.8 809.44 83.6 810.03 83.4 810.62 83.2 811.11 83.0 811.21 83.0 811.80 82.9 812.39 82.7 812.98 82.6 813.57 82.5 814.16 82.4 814.75 82.2 815.34 82.1 815.93 82.0 816.52 81.9 817.11 81.8 817.70 81.6 818.29 81.5 818.88 81.4 819.47 81.3 820.06 81.2 820.65 81.2 821.24 81.1 821.83 81.0 822.42 80.9 823.01 80.9 823.60 80.8 823.63 80.8 824.19 80.9 824.78 80.9 825.37 81.0 825.96 81.1 826.55 81.2 827.14 81.3 827.73 81.4 828.32 81.6 828.91 81.7 829.50 81.8 830.09 81.9 830.68 82.1 831.28 82.2 831.87 82.3 832.46 82.4 833.05 82.6 833.64 82.7 834.23 82.8 834.82 82.8 835.41 82.9 836.00 83.0 836.15 83.0 836.59 83.0 837.18 83.0 837.77 82.9 838.36 82.9 838.95 82.9 839.54 82.8 840.13 82.8 840.72 82.7 841.31 82.7 841.90 82.6 842.49 82.6 843.08 82.5 843.67 82.5 844.26 82.5 844.85 82.4 845.44 82.4 846.03 82.3 846.62 82.3 847.21 82.3 847.80 82.2 848.39 82.2 848.74 82.2 848.98 82.2 849.57 82.2 850.16 82.3 850.75 82.3 851.34 82.3 851.93 82.3 852.52 82.4 853.11 82.4 853.70 82.4 854.29 82.5 854.88 82.5 855.47 82.5 856.06 82.6 856.65 82.6 857.24 82.7 857.83 82.7 858.42 82.8 859.01 82.8 859.60 82.9 860.19 82.9 860.78 83.0 861.26 83.0 861.37 83.0 861.96 83.2 862.55 83.5 863.14 83.7 863.73 84.0 864.32 84.3 864.91 84.6 865.50 84.8 866.09 85.1 866.67 85.4 866.68 85.4 867.27 85.7 867.86 85.9 868.45 86.2 869.04 86.4 869.63 86.7 870.22 87.0 870.81 87.3 871.40 87.5 871.70 87.7 871.99 87.9 872.58 88.3 873.17 88.7 873.76 89.2 874.35 89.6 874.94 90.1 875.53 90.5 876.12 91.0 876.71 91.6 876.74 91.6 877.30 92.3 877.89 93.1 878.48 94.0 879.07 94.9 879.66 95.8 880.25 96.9 880.44 97.3 880.84 98.8 881.43 101.3 882.02 104.2 882.59 107.5 882.61 107.7 883.20 116.1 883.79 126.6 883.85 127.8 884.38 149.0 884.67 161.7 884.97 178.4 885.48 206.9 885.56 211.0 886.15 239.6 886.37 250.0 886.74 267.8 887.33 295.8 887.85 283.4 888.37 271.0 888.89 258.7 889.26 250.0 889.41 246.6 889.93 234.7 890.44 222.9 890.86 245.9 891.11 260.0 891.28 271.0 891.70 298.7 892.30 291.3 892.89 281.3 892.96 280.0 893.48 263.7 894.07 240.1 894.07 240.0 894.52 200.0 894.67 194.3 895.11 180.0 895.26 176.4 895.85 163.1 895.93 161.7 896.44 157.0 897.03 152.6 897.63 148.1 897.63 148.1 898.22 143.2 898.81 138.5 898.89 138.0 899.40 135.5 900.00 132.9 900.59 130.6 900.96 129.5 901.18 129.3 901.77 128.8 902.36 128.4 902.96 128.0 903.55 127.7 904.14 127.3 904.30 127.2 904.73 126.9 905.33 126.6 905.92 126.2 906.51 125.8 907.10 125.4 907.70 125.0 907.70 125.0 908.29 124.2 908.88 123.3 909.47 122.4 910.06 121.7 910.22 121.6 910.66 121.8 911.25 122.2 911.84 122.6 912.43 123.2 912.59 123.3 913.03 124.1 913.62 125.4 914.21 126.9 914.80 128.3 915.39 129.6 915.99 130.5 916.07 130.6 916.58 130.6 917.17 130.6 917.76 130.6 918.15 130.6 918.36 129.7 918.95 125.5 919.54 120.8 919.85 118.8 920.13 117.9 920.73 116.1 921.11 115.4 921.32 115.4 921.91 115.5 922.50 115.7 923.09 115.8 923.56 116.0 923.69 116.2 924.28 117.4 924.87 119.0 925.46 120.5 926.06 121.6 926.07 121.6 926.65 120.3 927.24 118.3 927.83 116.3 928.15 115.4 928.42 115.0 929.02 114.0 929.61 113.3 929.85 113.1 930.20 113.5 930.79 114.3 931.39 115.5 931.85 116.5 931.98 117.3 932.57 122.3 933.16 128.4 933.63 133.4 933.76 135.1 934.35 143.7 934.81 150.4 934.94 152.0 935.53 159.3 935.70 160.6 936.12 160.4 936.72 160.0 937.31 159.5 937.41 159.4 937.90 155.5 938.49 149.5 938.67 148.0 939.09 145.5 939.68 142.0 940.27 139.0 940.74 136.8 940.86 136.5 941.45 134.9 942.05 133.6 942.64 132.5 942.81 132.3 943.23 132.3 943.82 132.3 944.42 132.3 945.01 132.3 945.60 132.3 946.19 132.3 946.79 132.3 947.04 132.3 947.38 132.4 947.97 132.6 948.56 132.8 949.15 133.2 949.56 133.4 949.75 134.1 950.34 137.5 950.93 140.8 951.11 141.4 951.52 141.2 952.12 140.9 952.71 140.4 952.89 140.2 953.30 138.6 953.89 135.4 954.48 132.4 954.52 132.3 955.08 130.6 955.67 128.8 956.26 127.4 956.67 126.7 956.85 126.9 957.45 127.9 958.04 129.3 958.30 130.0 958.63 133.0 959.22 139.7 959.56 142.5 959.82 142.8 960.41 143.4 960.74 143.6 961.00 142.5 961.59 138.6 962.18 134.2 962.52 132.3 962.78 131.6 963.37 130.3 963.96 129.2 964.15 129.0 964.55 129.4 965.15 130.2 965.74 131.2 966.30 132.3 966.33 132.5 966.92 136.7 967.51 142.0 967.93 145.9 968.11 148.1 968.70 156.1 969.19 161.7 969.29 162.2 969.88 164.8 970.37 166.2 970.48 166.0 971.07 164.2 971.66 161.9 971.70 161.7 972.25 157.2 972.85 151.7 973.33 148.0 973.44 147.7 974.03 146.1 974.62 144.8 975.04 144.2 975.21 144.3 975.81 144.5 976.40 144.9 976.99 145.4 977.56 145.9 977.58 146.0 978.18 149.1 978.77 153.0 979.26 156.0 979.36 156.5 979.95 159.3 980.54 161.8 980.89 162.8 981.14 162.5 981.73 161.5 982.32 160.1 982.59 159.4 982.91 157.3 983.51 152.4 984.10 147.4 984.30 145.9 984.69 143.7 985.28 140.6 985.88 138.2 985.93 138.0 986.47 137.6 987.06 137.3 987.65 137.1 988.24 136.9 988.44 136.8 988.84 138.2 989.43 141.2 990.02 145.0 990.15 145.9 990.61 153.2 991.21 163.9 991.41 167.3 991.80 172.9 992.22 177.5 992.39 177.5 992.98 177.5 993.48 177.5 993.57 176.8 994.17 169.9 994.74 161.7 994.76 161.4 995.35 152.2 995.94 144.1 996.00 143.6 996.54 142.2 997.13 140.9 997.63 140.2 997.72 140.2 998.31 140.5 998.91 140.8 999.50 141.2 999.78 141.4 1000.09 143.6 1000.68 149.7 1001.27 156.6 1001.41 158.0 1001.87 163.4 1002.46 170.5 1002.67 173.0 1003.05 178.4 1003.48 183.2 1003.64 182.9 1004.24 181.0 1004.81 178.6 1004.83 178.5 1005.42 170.4 1006.01 160.6 1006.52 153.0 1006.60 152.1 1007.20 146.2 1007.79 141.0 1008.22 138.0 1008.38 137.7 1008.97 136.6 1009.57 135.7 1010.16 135.1 1010.30 135.0 1010.75 135.6 1011.34 136.8 1011.94 138.4 1012.44 140.0 1012.53 141.0 1013.12 151.6 1013.70 164.0 1013.71 164.2 1014.30 179.4 1014.90 193.3 1015.04 195.6 1015.49 197.4 1016.08 199.1 1016.30 199.5 1016.67 196.3 1017.27 188.6 1017.56 184.3 1017.86 174.8 1018.44 156.0 1018.45 156.0 1019.04 151.9 1019.63 148.8 1020.00 147.6 1020.23 147.6 1020.82 147.6 1021.41 147.6 1022.00 147.6 1022.60 147.6 1023.19 147.6 1023.78 147.6 1023.85 147.6 1024.37 150.0 1024.97 154.2 1025.19 156.0 1025.56 166.6 1026.15 188.1 1026.37 195.6 1026.74 206.4 1027.33 222.9 1027.63 229.5 1027.93 232.5 1028.52 237.9 1029.11 241.5 1029.70 213.5 1029.85 206.9 1030.29 191.5 1030.88 174.6 1030.96 173.0 1031.47 172.1 1032.06 171.4 1032.22 171.3 1032.65 171.7 1033.23 172.5 1033.48 173.0 1033.82 178.4 1034.41 191.8 1034.74 200.0 1035.00 209.5 1035.59 233.7 1036.00 250.8 1036.18 258.2 1036.77 282.6 1037.26 301.7 1037.36 304.6 1037.95 321.9 1038.52 335.6 1038.54 335.8 1039.13 341.0 1039.71 345.2 1040.15 348.0 1040.30 348.6 1040.89 350.8 1041.48 352.5 1041.93 352.5 1042.52 349.2 1043.11 344.3 1043.56 340.0 1043.70 337.3 1044.29 323.4 1044.81 310.2 1044.88 308.8 1045.47 295.9 1046.06 283.1 1046.37 276.3 1046.65 270.1 1047.24 257.0 1047.56 250.0 1047.83 244.5 1048.42 232.9 1048.59 229.5 1049.01 221.1 1049.60 209.1 1050.19 197.6 1050.22 197.0 1050.78 188.4 1051.37 179.6 1051.96 171.5 1052.30 167.3 1052.55 165.3 1053.14 160.9 1053.73 156.8 1054.32 153.0 1054.37 152.7 1054.91 150.0 1055.50 147.1 1056.09 144.4 1056.68 142.1 1056.89 141.4 1057.27 140.8 1057.86 139.8 1058.45 139.0 1059.04 138.3 1059.41 138.0 1059.63 138.2 1060.22 139.1 1060.81 140.2 1061.40 141.4 1061.93 142.5 1061.99 142.7 1062.58 144.9 1063.17 147.3 1063.76 149.3 1064.00 149.8 1064.35 149.6 1064.94 149.1 1065.53 148.5 1066.12 147.8 1066.71 147.2 1066.96 147.0 1067.30 146.8 1067.89 146.5 1068.48 146.3 1069.07 146.0 1069.66 145.7 1070.25 145.4 1070.37 145.3 1070.84 143.7 1071.43 141.1 1072.02 138.3 1072.37 136.8 1072.62 135.8 1073.21 133.5 1073.63 132.3 1073.80 132.4 1074.39 132.9 1074.98 133.5 1075.57 134.3 1075.78 134.6 1076.16 137.1 1076.75 142.0 1077.04 143.6 1077.34 143.6 1077.93 143.6 1078.52 143.6 1078.67 143.6 1079.11 140.8 1079.70 135.4 1079.93 133.4 1080.29 130.5 1080.88 125.6 1081.47 121.0 1081.63 119.9 1082.06 117.8 1082.65 115.0 1083.24 112.5 1083.70 110.8 1083.83 110.5 1084.42 109.3 1085.01 108.2 1085.60 107.2 1086.19 106.3 1086.22 106.3 1086.78 106.0 1087.37 105.7 1087.96 105.4 1088.55 105.2 1089.14 104.9 1089.73 104.8 1090.32 104.6 1090.37 104.6 1090.91 104.8 1091.50 105.0 1092.09 105.3 1092.68 105.6 1093.27 106.0 1093.78 106.3 1093.86 106.4 1094.45 107.3 1095.04 108.4 1095.63 109.5 1096.22 110.6 1096.67 111.4 1096.81 111.6 1097.40 112.4 1097.99 113.2 1098.58 114.0 1099.17 114.8 1099.76 115.4 1100.35 115.8 1100.44 115.9 1100.94 115.6 1101.53 115.2 1102.12 114.6 1102.52 114.2 1102.71 113.4 1103.30 110.2 1103.89 106.8 1104.22 105.2 1104.48 104.6 1105.07 103.2 1105.67 102.1 1106.26 101.2 1106.30 101.2 1106.85 101.4 1107.44 101.7 1108.03 102.0 1108.62 102.4 1109.21 102.8 1109.80 103.1 1110.37 103.5 1110.39 103.5 1110.98 103.9 1111.57 104.4 1112.16 104.8 1112.75 105.1 1112.96 105.2 1113.34 104.4 1113.93 102.4 1114.52 100.2 1115.11 98.4 1115.11 98.4 1115.70 97.7 1116.29 97.0 1116.74 96.7 1116.88 96.9 1117.47 98.1 1118.06 99.7 1118.44 100.7 1118.65 101.4 1119.24 103.8 1119.83 105.9 1120.00 106.3 1120.42 105.8 1121.01 104.7 1121.60 103.3 1121.78 102.9 1122.19 101.0 1122.78 97.7 1123.37 94.9 1123.48 94.5 1123.96 94.0 1124.55 93.5 1125.14 93.1 1125.73 92.7 1126.32 92.2 1126.37 92.2 1126.91 91.8 1127.50 91.3 1128.09 90.8 1128.68 90.4 1129.27 90.1 1129.63 89.9 1129.86 90.0 1130.45 90.2 1131.04 90.5 1131.63 90.9 1132.22 91.3 1132.22 91.3 1132.81 92.9 1133.40 94.9 1133.99 97.0 1134.44 98.5 1134.58 98.8 1135.17 100.3 1135.76 101.7 1136.35 102.8 1136.52 103.0 1136.94 102.7 1137.53 102.0 1138.12 101.1 1138.71 100.4 1139.11 100.0 1139.31 99.9 1139.90 99.7 1140.49 99.6 1141.08 99.4 1141.67 99.3 1142.22 99.2 1142.26 99.2 1142.85 99.8 1143.44 100.5 1144.03 101.5 1144.62 102.5 1144.89 103.0 1145.21 104.3 1145.80 107.3 1146.39 110.7 1146.67 112.5 1146.98 116.0 1147.57 123.6 1147.85 127.0 1148.16 129.5 1148.74 134.0 1148.75 134.1 1149.34 138.7 1149.93 143.3 1150.52 147.9 1151.11 143.5 1151.70 138.6 1152.22 134.0 1152.29 133.3 1152.88 125.5 1153.47 117.5 1153.93 112.4 1154.06 111.8 1154.64 109.5 1155.23 107.5 1155.82 105.8 1156.22 104.7 1156.41 104.4 1157.00 103.4 1157.59 102.5 1158.18 101.6 1158.77 100.9 1159.36 100.2 1159.63 100.0 1159.95 99.9 1160.54 99.8 1161.13 99.7 1161.72 99.6 1162.31 99.5 1162.90 99.5 1163.49 99.4 1164.08 99.4 1164.67 99.3 1164.74 99.3 1165.25 100.1 1165.84 101.5 1166.43 103.1 1167.02 104.7 1167.04 104.7 1167.61 106.9 1168.20 109.4 1168.74 110.9 1168.79 110.9 1169.38 110.3 1169.97 109.6 1170.56 108.6 1171.04 107.8 1171.15 107.3 1171.74 104.3 1172.33 100.8 1172.74 98.6 1172.92 97.9 1173.51 95.7 1174.10 93.6 1174.69 91.8 1175.04 90.8 1175.28 90.5 1175.86 89.7 1176.45 89.0 1177.04 88.4 1177.63 88.0 1177.93 87.8 1178.22 87.9 1178.81 88.0 1179.40 88.3 1179.99 88.5 1180.58 88.8 1181.17 89.2 1181.33 89.3 1181.76 90.6 1182.35 92.9 1182.94 94.7 1182.96 94.7 1183.53 94.7 1184.12 94.7 1184.71 94.7 1185.30 94.7 1185.33 94.7 1185.88 93.4 1186.47 91.5 1187.06 89.4 1187.63 87.8 1187.65 87.8 1188.24 87.1 1188.83 86.4 1189.42 85.8 1190.01 85.2 1190.60 84.7 1191.04 84.4 1191.19 84.3 1191.78 84.1 1192.37 83.8 1192.96 83.6 1193.55 83.4 1194.14 83.2 1194.73 83.0 1195.32 82.8 1195.56 82.8 1195.91 82.8 1196.49 82.8 1197.08 82.8 1197.67 82.8 1198.26 82.8 1198.85 82.8 1199.44 82.8 1200.03 82.8 1200.62 82.8 1201.21 82.8 1201.33 82.8 1201.80 82.9 1202.39 83.1 1202.98 83.3 1203.57 83.6 1204.16 83.8 1204.75 84.1 1205.34 84.4 1205.93 84.7 1264.15 116.3 1264.54 139.2 1264.74 152.5 1264.94 171.8 1265.33 215.8 1267.63 155.6 1268.20 167.5 1268.77 182.2 1269.33 198.8 1269.90 227.0 1270.47 259.3 1271.04 294.4 1271.63 262.6 1272.22 229.1 1272.74 198.8 1272.81 193.8 1273.41 149.8 1273.85 121.7 1274.00 118.1 1274.59 105.8 1275.04 98.6 1275.19 97.6 1275.78 93.7 1276.37 90.5 1276.96 87.7 1277.33 86.2 1277.56 85.8 1278.15 84.8 1278.74 84.0 1279.33 83.3 1279.63 83.1 1279.93 83.3 1280.52 83.8 1281.11 84.5 1281.70 85.2 1281.85 85.4 1282.30 86.8 1282.89 89.1 1283.48 91.5 1284.07 93.8 1284.15 94.0 1284.67 95.2 1285.26 96.6 1285.85 97.8 1286.44 99.0 1287.04 100.0 1287.61 99.3 1288.18 98.6 1288.75 97.9 1289.33 97.3 1289.90 96.7 1290.37 96.2 1290.47 96.1 1291.04 95.8 1291.61 95.4 1292.19 95.0 1292.76 94.7 1293.33 94.3 1293.90 94.0 1294.47 93.7 1295.05 93.4 1295.62 93.1 1296.19 92.8 1296.76 92.6 1297.33 92.4"/>
</defs>
<g transform="scale(1.35,1)" fill="none" stroke="#006c06" stroke-linejoin="miter" stroke-miterlimit="3" stroke-linecap="butt">
<use href="#c5" stroke-width="4.4" stroke-opacity="0.35"/>
<use href="#c6" stroke-width="4.4" stroke-opacity="0.35"/>
<use href="#c5" stroke-width="2.6"/>
<use href="#c6" stroke-width="2.6"/>
</g>
<g stroke="#000" fill="none">
<line x1="225.2" y1="21" x2="225.2" y2="1855.3" stroke-width="2.8"/>
<line x1="225.2" y1="1818.5" x2="828.6" y2="1818.5" stroke-width="2.6"/>
<line x1="842.2" y1="1818.5" x2="1749.8" y2="1818.5" stroke-width="2.6"/>
<line x1="826.2" y1="1806.3" x2="829.4" y2="1836.8" stroke-width="2.6" stroke="#1a1a1a"/>
<line x1="839.2" y1="1806.3" x2="845.0" y2="1831.0" stroke-width="2.6" stroke="#1a1a1a"/>
</g>
<g fill="none">
<line x1="345.3" y1="1818.5" x2="345.3" y2="1836.1" stroke="#000" stroke-width="2.5"/>
<line x1="465.4" y1="1818.5" x2="465.4" y2="1855.3" stroke="#777" stroke-width="2.7"/>
<line x1="585.4" y1="1818.5" x2="585.4" y2="1836.1" stroke="#444" stroke-width="2.6"/>
<line x1="707.2" y1="1818.5" x2="707.2" y2="1855.3" stroke="#aaa" stroke-width="3.5"/>
<line x1="973.1" y1="1818.5" x2="973.1" y2="1836.1" stroke="#000" stroke-width="2.5"/>
<line x1="1109.7" y1="1818.5" x2="1109.7" y2="1855.3" stroke="#888" stroke-width="2.7"/>
<line x1="1248.5" y1="1818.5" x2="1248.5" y2="1836.1" stroke="#555" stroke-width="2.6"/>
<line x1="1385.1" y1="1818.5" x2="1385.1" y2="1855.3" stroke="#000" stroke-width="2.5"/>
<line x1="1522.8" y1="1818.5" x2="1522.8" y2="1836.1" stroke="#aaa" stroke-width="4.5"/>
<line x1="1660.7" y1="1818.5" x2="1660.7" y2="1855.3" stroke="#000" stroke-width="2.5"/>
</g>
<g font-family="'Liberation Sans', Arial, Helvetica, sans-serif" font-size="76.8px" fill="#000">
<text transform="translate(225.20,1942.0) scale(0.9635,1)" text-anchor="middle">3200</text>
<text transform="translate(465.40,1942.0) scale(0.9635,1)" text-anchor="middle">3000</text>
<text transform="translate(706.40,1942.0) scale(0.9635,1)" text-anchor="middle">2800</text>
<text transform="translate(1110.00,1942.0) scale(0.9635,1)" text-anchor="middle">1600</text>
<text transform="translate(1386.00,1942.0) scale(0.9635,1)" text-anchor="middle">1200</text>
<text transform="translate(1660.50,1942.0) scale(0.9635,1)" text-anchor="middle">800</text>
<text transform="translate(586.0,2064.8) scale(0.955,1)">Wavenumber (cm<tspan dx="0" dy="-48.4" font-size="54.5px">-1</tspan><tspan dx="2.5" dy="48.4">)</tspan></text>
<text transform="translate(82.1,1175.0) rotate(-90) scale(0.92,1)" x="0.2 55.1 100.0 121.8 141.4 186.2 225.5 246.2 293.2 337.0 376.7 409.2 441.7 469.9 544.5">Reflectance (%)</text>
</g>
</svg>
</div>
</body>
</html>
